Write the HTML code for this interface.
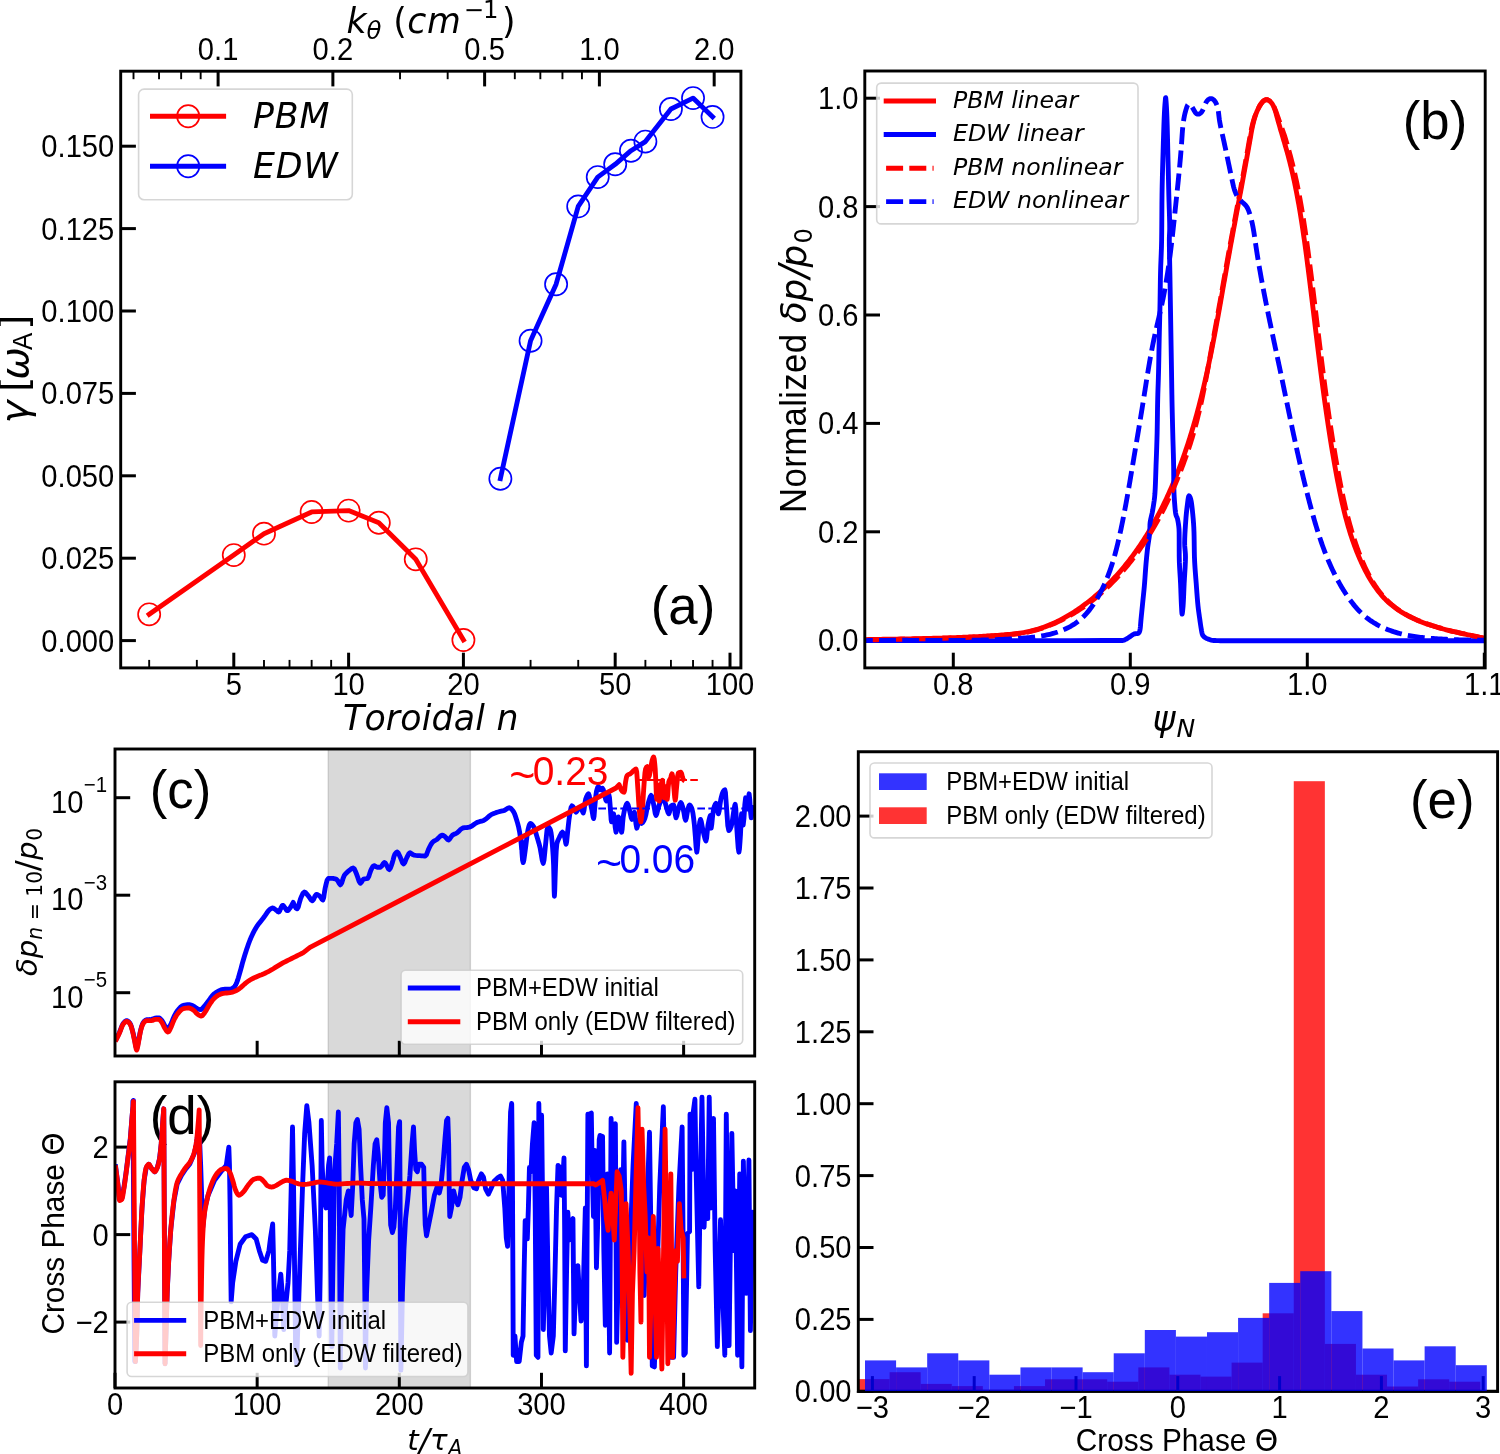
<!DOCTYPE html>
<html lang="en"><head><meta charset="utf-8"><title>Figure</title>
<style>
html,body{margin:0;padding:0;background:#fff;}
body{width:1500px;height:1454px;overflow:hidden;}
svg{display:block;}
text{white-space:pre;font-kerning:none;}
</style></head>
<body>
<svg width="1500" height="1454" viewBox="0 0 1500 1454">
<rect x="0" y="0" width="1500" height="1454" fill="#fff"/>
<g id="panel-a">
<line x1="233.79" y1="667.9" x2="233.79" y2="652.7" stroke="#000" stroke-width="3"/>
<g fill="#000"><text transform="translate(225.68 694.8) scale(1 1.06)" font-family='"Liberation Sans", sans-serif' font-size="29.17">5</text></g>
<line x1="348.6" y1="667.9" x2="348.6" y2="652.7" stroke="#000" stroke-width="3"/>
<g fill="#000"><text transform="translate(332.38 694.8) scale(1 1.06)" font-family='"Liberation Sans", sans-serif' font-size="29.17">10</text></g>
<line x1="463.41" y1="667.9" x2="463.41" y2="652.7" stroke="#000" stroke-width="3"/>
<g fill="#000"><text transform="translate(447.19 694.8) scale(1 1.06)" font-family='"Liberation Sans", sans-serif' font-size="29.17">20</text></g>
<line x1="615.19" y1="667.9" x2="615.19" y2="652.7" stroke="#000" stroke-width="3"/>
<g fill="#000"><text transform="translate(598.97 694.8) scale(1 1.06)" font-family='"Liberation Sans", sans-serif' font-size="29.17">50</text></g>
<line x1="730" y1="667.9" x2="730" y2="652.7" stroke="#000" stroke-width="3"/>
<g fill="#000"><text transform="translate(705.67 694.8) scale(1 1.06)" font-family='"Liberation Sans", sans-serif' font-size="29.17">100</text></g>
<line x1="149.17" y1="667.9" x2="149.17" y2="659.9" stroke="#000" stroke-width="1.9"/>
<line x1="196.83" y1="667.9" x2="196.83" y2="659.9" stroke="#000" stroke-width="1.9"/>
<line x1="263.99" y1="667.9" x2="263.99" y2="659.9" stroke="#000" stroke-width="1.9"/>
<line x1="289.52" y1="667.9" x2="289.52" y2="659.9" stroke="#000" stroke-width="1.9"/>
<line x1="311.64" y1="667.9" x2="311.64" y2="659.9" stroke="#000" stroke-width="1.9"/>
<line x1="331.15" y1="667.9" x2="331.15" y2="659.9" stroke="#000" stroke-width="1.9"/>
<line x1="530.57" y1="667.9" x2="530.57" y2="659.9" stroke="#000" stroke-width="1.9"/>
<line x1="578.23" y1="667.9" x2="578.23" y2="659.9" stroke="#000" stroke-width="1.9"/>
<line x1="645.39" y1="667.9" x2="645.39" y2="659.9" stroke="#000" stroke-width="1.9"/>
<line x1="670.92" y1="667.9" x2="670.92" y2="659.9" stroke="#000" stroke-width="1.9"/>
<line x1="693.04" y1="667.9" x2="693.04" y2="659.9" stroke="#000" stroke-width="1.9"/>
<line x1="712.55" y1="667.9" x2="712.55" y2="659.9" stroke="#000" stroke-width="1.9"/>
<line x1="218.1" y1="71.2" x2="218.1" y2="86.4" stroke="#000" stroke-width="3"/>
<g fill="#000"><text transform="translate(197.83 60.3) scale(1 1.06)" font-family='"Liberation Sans", sans-serif' font-size="29.17">0.1</text></g>
<line x1="332.88" y1="71.2" x2="332.88" y2="86.4" stroke="#000" stroke-width="3"/>
<g fill="#000"><text transform="translate(312.61 60.3) scale(1 1.06)" font-family='"Liberation Sans", sans-serif' font-size="29.17">0.2</text></g>
<line x1="484.62" y1="71.2" x2="484.62" y2="86.4" stroke="#000" stroke-width="3"/>
<g fill="#000"><text transform="translate(464.34 60.3) scale(1 1.06)" font-family='"Liberation Sans", sans-serif' font-size="29.17">0.5</text></g>
<line x1="599.4" y1="71.2" x2="599.4" y2="86.4" stroke="#000" stroke-width="3"/>
<g fill="#000"><text transform="translate(579.13 60.3) scale(1 1.06)" font-family='"Liberation Sans", sans-serif' font-size="29.17">1.0</text></g>
<line x1="714.18" y1="71.2" x2="714.18" y2="86.4" stroke="#000" stroke-width="3"/>
<g fill="#000"><text transform="translate(693.91 60.3) scale(1 1.06)" font-family='"Liberation Sans", sans-serif' font-size="29.17">2.0</text></g>
<line x1="133.51" y1="71.2" x2="133.51" y2="79.2" stroke="#000" stroke-width="1.9"/>
<line x1="159.04" y1="71.2" x2="159.04" y2="79.2" stroke="#000" stroke-width="1.9"/>
<line x1="181.15" y1="71.2" x2="181.15" y2="79.2" stroke="#000" stroke-width="1.9"/>
<line x1="200.65" y1="71.2" x2="200.65" y2="79.2" stroke="#000" stroke-width="1.9"/>
<line x1="400.03" y1="71.2" x2="400.03" y2="79.2" stroke="#000" stroke-width="1.9"/>
<line x1="447.67" y1="71.2" x2="447.67" y2="79.2" stroke="#000" stroke-width="1.9"/>
<line x1="514.81" y1="71.2" x2="514.81" y2="79.2" stroke="#000" stroke-width="1.9"/>
<line x1="540.34" y1="71.2" x2="540.34" y2="79.2" stroke="#000" stroke-width="1.9"/>
<line x1="562.45" y1="71.2" x2="562.45" y2="79.2" stroke="#000" stroke-width="1.9"/>
<line x1="581.95" y1="71.2" x2="581.95" y2="79.2" stroke="#000" stroke-width="1.9"/>
<line x1="120.7" y1="640.6" x2="135.9" y2="640.6" stroke="#000" stroke-width="3"/>
<g fill="#000"><text transform="translate(41.31 651.5) scale(1 1.06)" font-family='"Liberation Sans", sans-serif' font-size="29.17">0.000</text></g>
<line x1="120.7" y1="558.2" x2="135.9" y2="558.2" stroke="#000" stroke-width="3"/>
<g fill="#000"><text transform="translate(41.31 569.1) scale(1 1.06)" font-family='"Liberation Sans", sans-serif' font-size="29.17">0.025</text></g>
<line x1="120.7" y1="475.8" x2="135.9" y2="475.8" stroke="#000" stroke-width="3"/>
<g fill="#000"><text transform="translate(41.31 486.7) scale(1 1.06)" font-family='"Liberation Sans", sans-serif' font-size="29.17">0.050</text></g>
<line x1="120.7" y1="393.4" x2="135.9" y2="393.4" stroke="#000" stroke-width="3"/>
<g fill="#000"><text transform="translate(41.31 404.3) scale(1 1.06)" font-family='"Liberation Sans", sans-serif' font-size="29.17">0.075</text></g>
<line x1="120.7" y1="311" x2="135.9" y2="311" stroke="#000" stroke-width="3"/>
<g fill="#000"><text transform="translate(41.31 321.9) scale(1 1.06)" font-family='"Liberation Sans", sans-serif' font-size="29.17">0.100</text></g>
<line x1="120.7" y1="228.6" x2="135.9" y2="228.6" stroke="#000" stroke-width="3"/>
<g fill="#000"><text transform="translate(41.31 239.5) scale(1 1.06)" font-family='"Liberation Sans", sans-serif' font-size="29.17">0.125</text></g>
<line x1="120.7" y1="146.2" x2="135.9" y2="146.2" stroke="#000" stroke-width="3"/>
<g fill="#000"><text transform="translate(41.31 157.1) scale(1 1.06)" font-family='"Liberation Sans", sans-serif' font-size="29.17">0.150</text></g>
<path d="M149.17 614.32 L233.79 555.07 L263.99 533.67 L311.64 511.94 L348.6 510.62 L378.8 522.8 L415.76 559.35 L463.41 640" fill="none" stroke="#f00" stroke-width="4.86" stroke-linejoin="round" stroke-linecap="square" />
<circle cx="149.17" cy="614.32" r="11.1" fill="none" stroke="#f00" stroke-width="1.67"/>
<circle cx="233.79" cy="555.07" r="11.1" fill="none" stroke="#f00" stroke-width="1.67"/>
<circle cx="263.99" cy="533.67" r="11.1" fill="none" stroke="#f00" stroke-width="1.67"/>
<circle cx="311.64" cy="511.94" r="11.1" fill="none" stroke="#f00" stroke-width="1.67"/>
<circle cx="348.6" cy="510.62" r="11.1" fill="none" stroke="#f00" stroke-width="1.67"/>
<circle cx="378.8" cy="522.8" r="11.1" fill="none" stroke="#f00" stroke-width="1.67"/>
<circle cx="415.76" cy="559.35" r="11.1" fill="none" stroke="#f00" stroke-width="1.67"/>
<circle cx="463.41" cy="640" r="11.1" fill="none" stroke="#f00" stroke-width="1.67"/>
<path d="M500.37 478.7 L530.57 340.7 L556.11 284.2 L578.23 206.4 L597.74 177.1 L615.19 164.3 L630.97 150.7 L645.39 141.6 L670.92 109 L693.04 98.1 L712.55 116.9" fill="none" stroke="#00f" stroke-width="4.86" stroke-linejoin="round" stroke-linecap="square" />
<circle cx="500.37" cy="478.7" r="11.1" fill="none" stroke="#00f" stroke-width="1.67"/>
<circle cx="530.57" cy="340.7" r="11.1" fill="none" stroke="#00f" stroke-width="1.67"/>
<circle cx="556.11" cy="284.2" r="11.1" fill="none" stroke="#00f" stroke-width="1.67"/>
<circle cx="578.23" cy="206.4" r="11.1" fill="none" stroke="#00f" stroke-width="1.67"/>
<circle cx="597.74" cy="177.1" r="11.1" fill="none" stroke="#00f" stroke-width="1.67"/>
<circle cx="615.19" cy="164.3" r="11.1" fill="none" stroke="#00f" stroke-width="1.67"/>
<circle cx="630.97" cy="150.7" r="11.1" fill="none" stroke="#00f" stroke-width="1.67"/>
<circle cx="645.39" cy="141.6" r="11.1" fill="none" stroke="#00f" stroke-width="1.67"/>
<circle cx="670.92" cy="109" r="11.1" fill="none" stroke="#00f" stroke-width="1.67"/>
<circle cx="693.04" cy="98.1" r="11.1" fill="none" stroke="#00f" stroke-width="1.67"/>
<circle cx="712.55" cy="116.9" r="11.1" fill="none" stroke="#00f" stroke-width="1.67"/>
<rect x="120.7" y="71.2" width="620.2" height="596.7" fill="none" stroke="#000" stroke-width="2.92"/>
<rect x="138.6" y="89.1" width="213.7" height="110.6" rx="5.5" ry="5.5" fill="#fff" fill-opacity="0.8" stroke="#ccc" stroke-opacity="0.8" stroke-width="1.6"/>
<path d="M150 116.2 L226.1 116.2" fill="none" stroke="#f00" stroke-width="4.86" stroke-linejoin="round" stroke-linecap="butt" />
<circle cx="188.2" cy="116.2" r="11.1" fill="none" stroke="#f00" stroke-width="1.67"/>
<g fill="#000"><text x="253" y="127.9" font-family='"DejaVu Sans", "Liberation Sans", sans-serif' font-size="34.72" font-style="italic" letter-spacing="0.9">PBM</text></g>
<path d="M150 166.3 L226.1 166.3" fill="none" stroke="#00f" stroke-width="4.86" stroke-linejoin="round" stroke-linecap="butt" />
<circle cx="188.2" cy="166.3" r="11.1" fill="none" stroke="#00f" stroke-width="1.67"/>
<g fill="#000"><text x="253" y="177.8" font-family='"DejaVu Sans", "Liberation Sans", sans-serif' font-size="34.72" font-style="italic" letter-spacing="0.9">EDW</text></g>
<g fill="#000"><text x="650.8" y="623.8" font-family='"Liberation Sans", sans-serif' font-size="52.78">(a)</text></g>
<g fill="#000"><text x="343" y="730.3" font-family='"DejaVu Sans", "Liberation Sans", sans-serif' font-size="34.72" font-style="italic" letter-spacing="0.2">Toroidal n</text></g>
<g fill="#000"><text x="346.5" y="32.9" font-family='"DejaVu Sans", "Liberation Sans", sans-serif' font-size="34.72" font-style="italic">k</text><text x="366.61" y="38.7" font-family='"DejaVu Sans", "Liberation Sans", sans-serif' font-size="24.31" font-style="italic">θ</text><text x="382.28" y="32.9" font-family='"DejaVu Sans", "Liberation Sans", sans-serif' font-size="34.72"> (</text><text x="407.36" y="32.9" font-family='"DejaVu Sans", "Liberation Sans", sans-serif' font-size="34.72" font-style="italic" letter-spacing="0.6">cm</text><text x="463.68" y="17.7" font-family='"DejaVu Sans", "Liberation Sans", sans-serif' font-size="24.31" letter-spacing="-1">−1</text><text x="502.01" y="32.9" font-family='"DejaVu Sans", "Liberation Sans", sans-serif' font-size="34.72">)</text></g>
<g transform="translate(27.6 423.5) rotate(-90)" fill="#000"><text x="0" y="0" font-family='"DejaVu Sans", "Liberation Sans", sans-serif' font-size="38.89" font-style="italic">γ</text><text x="19.51" y="0" font-family='"DejaVu Sans", "Liberation Sans", sans-serif' font-size="38.89"> [</text><text x="43.65" y="0" font-family='"DejaVu Sans", "Liberation Sans", sans-serif' font-size="38.89" font-style="italic">ω</text><text transform="translate(73.41 4.6) scale(1 1.06)" font-family='"Liberation Sans", sans-serif' font-size="26">A</text><text x="93.76" y="0" font-family='"DejaVu Sans", "Liberation Sans", sans-serif' font-size="38.89">]</text></g>
</g>
<g id="panel-b">
<clipPath id="clipb"><rect x="864.8" y="71" width="620.4" height="596.9"/></clipPath>
<line x1="953.3" y1="667.9" x2="953.3" y2="652.7" stroke="#000" stroke-width="3"/>
<g fill="#000"><text transform="translate(933.03 694.8) scale(1 1.06)" font-family='"Liberation Sans", sans-serif' font-size="29.17">0.8</text></g>
<line x1="1130.3" y1="667.9" x2="1130.3" y2="652.7" stroke="#000" stroke-width="3"/>
<g fill="#000"><text transform="translate(1110.03 694.8) scale(1 1.06)" font-family='"Liberation Sans", sans-serif' font-size="29.17">0.9</text></g>
<line x1="1307.3" y1="667.9" x2="1307.3" y2="652.7" stroke="#000" stroke-width="3"/>
<g fill="#000"><text transform="translate(1287.03 694.8) scale(1 1.06)" font-family='"Liberation Sans", sans-serif' font-size="29.17">1.0</text></g>
<line x1="1484.3" y1="667.9" x2="1484.3" y2="652.7" stroke="#000" stroke-width="3"/>
<g fill="#000"><text transform="translate(1464.03 694.8) scale(1 1.06)" font-family='"Liberation Sans", sans-serif' font-size="29.17">1.1</text></g>
<line x1="864.8" y1="640.2" x2="880" y2="640.2" stroke="#000" stroke-width="3"/>
<g fill="#000"><text transform="translate(818.05 651.1) scale(1 1.06)" font-family='"Liberation Sans", sans-serif' font-size="29.17">0.0</text></g>
<line x1="864.8" y1="531.8" x2="880" y2="531.8" stroke="#000" stroke-width="3"/>
<g fill="#000"><text transform="translate(818.05 542.7) scale(1 1.06)" font-family='"Liberation Sans", sans-serif' font-size="29.17">0.2</text></g>
<line x1="864.8" y1="423.4" x2="880" y2="423.4" stroke="#000" stroke-width="3"/>
<g fill="#000"><text transform="translate(818.05 434.3) scale(1 1.06)" font-family='"Liberation Sans", sans-serif' font-size="29.17">0.4</text></g>
<line x1="864.8" y1="315" x2="880" y2="315" stroke="#000" stroke-width="3"/>
<g fill="#000"><text transform="translate(818.05 325.9) scale(1 1.06)" font-family='"Liberation Sans", sans-serif' font-size="29.17">0.6</text></g>
<line x1="864.8" y1="206.6" x2="880" y2="206.6" stroke="#000" stroke-width="3"/>
<g fill="#000"><text transform="translate(818.05 217.5) scale(1 1.06)" font-family='"Liberation Sans", sans-serif' font-size="29.17">0.8</text></g>
<line x1="864.8" y1="98.2" x2="880" y2="98.2" stroke="#000" stroke-width="3"/>
<g fill="#000"><text transform="translate(818.05 109.1) scale(1 1.06)" font-family='"Liberation Sans", sans-serif' font-size="29.17">1.0</text></g>
<g clip-path="url(#clipb)">
<path d="M864.81 639.6 L866.82 639.56 L868.83 639.53 L870.84 639.49 L872.85 639.46 L874.86 639.43 L876.87 639.4 L878.88 639.36 L880.89 639.33 L882.91 639.3 L884.92 639.27 L886.93 639.23 L888.94 639.2 L890.96 639.17 L892.97 639.13 L894.98 639.1 L897 639.07 L899.01 639.03 L901.02 638.99 L903.04 638.96 L905.05 638.92 L907.07 638.88 L909.08 638.85 L911.1 638.81 L913.11 638.77 L915.13 638.72 L917.14 638.68 L919.16 638.64 L921.17 638.59 L923.19 638.55 L925.2 638.5 L927.22 638.45 L929.23 638.4 L931.25 638.35 L933.26 638.29 L935.28 638.24 L937.29 638.18 L939.31 638.12 L941.32 638.06 L943.34 637.99 L945.35 637.93 L947.37 637.86 L949.38 637.79 L951.4 637.72 L953.41 637.65 L955.42 637.57 L957.44 637.49 L959.45 637.41 L961.47 637.33 L963.48 637.24 L965.49 637.15 L967.51 637.06 L969.52 636.96 L971.53 636.87 L973.55 636.77 L975.56 636.66 L977.57 636.56 L979.58 636.45 L981.6 636.33 L983.61 636.22 L985.62 636.1 L987.63 635.97 L989.64 635.85 L991.65 635.72 L993.66 635.58 L995.67 635.44 L997.68 635.3 L999.69 635.16 L1001.7 635.01 L1003.71 634.85 L1005.71 634.69 L1007.72 634.52 L1009.72 634.34 L1011.72 634.14 L1013.72 633.93 L1015.71 633.69 L1017.7 633.44 L1019.69 633.17 L1021.66 632.87 L1023.64 632.55 L1025.61 632.19 L1027.57 631.81 L1029.52 631.4 L1031.47 630.95 L1033.41 630.46 L1035.34 629.94 L1037.26 629.39 L1039.18 628.8 L1041.09 628.18 L1042.98 627.52 L1044.87 626.84 L1046.75 626.12 L1048.62 625.38 L1050.48 624.6 L1052.33 623.8 L1054.17 622.97 L1056 622.11 L1057.82 621.22 L1059.63 620.31 L1061.43 619.38 L1063.22 618.42 L1065 617.43 L1066.76 616.43 L1068.52 615.4 L1070.26 614.34 L1071.99 613.27 L1073.71 612.18 L1075.41 611.07 L1077.1 609.94 L1078.79 608.79 L1080.45 607.63 L1082.11 606.45 L1083.75 605.25 L1085.38 604.04 L1086.99 602.81 L1088.59 601.57 L1090.18 600.31 L1091.75 599.05 L1093.31 597.76 L1094.86 596.47 L1096.39 595.16 L1097.91 593.84 L1099.42 592.5 L1100.91 591.16 L1102.39 589.8 L1103.86 588.43 L1105.31 587.04 L1106.76 585.64 L1108.18 584.24 L1109.6 582.82 L1111 581.38 L1112.39 579.94 L1113.77 578.48 L1115.14 577.02 L1116.49 575.54 L1117.83 574.05 L1119.16 572.55 L1120.48 571.04 L1121.78 569.52 L1123.07 567.99 L1124.36 566.45 L1125.62 564.9 L1126.88 563.34 L1128.13 561.77 L1129.36 560.19 L1130.58 558.6 L1131.79 557 L1132.99 555.39 L1134.18 553.77 L1135.35 552.15 L1136.52 550.51 L1137.67 548.87 L1138.81 547.22 L1139.95 545.56 L1141.07 543.89 L1142.18 542.22 L1143.27 540.53 L1144.36 538.84 L1145.44 537.14 L1146.51 535.44 L1147.56 533.73 L1148.61 532.01 L1149.64 530.28 L1150.67 528.55 L1151.68 526.81 L1152.69 525.06 L1153.68 523.31 L1154.67 521.55 L1155.64 519.78 L1156.6 518.01 L1157.56 516.24 L1158.5 514.45 L1159.44 512.67 L1160.36 510.87 L1161.28 509.08 L1162.19 507.28 L1163.08 505.47 L1163.97 503.66 L1164.85 501.84 L1165.72 500.02 L1166.58 498.2 L1167.43 496.37 L1168.27 494.54 L1169.1 492.7 L1169.92 490.86 L1170.74 489.02 L1171.55 487.17 L1172.34 485.32 L1173.13 483.47 L1173.91 481.62 L1174.69 479.76 L1175.45 477.9 L1176.2 476.03 L1176.95 474.16 L1177.69 472.29 L1178.42 470.42 L1179.15 468.55 L1179.86 466.67 L1180.57 464.79 L1181.27 462.9 L1181.96 461.02 L1182.65 459.13 L1183.32 457.23 L1184 455.34 L1184.66 453.44 L1185.31 451.54 L1185.96 449.64 L1186.6 447.74 L1187.24 445.83 L1187.87 443.92 L1188.49 442.01 L1189.1 440.1 L1189.71 438.18 L1190.31 436.26 L1190.91 434.34 L1191.5 432.42 L1192.08 430.5 L1192.66 428.57 L1193.23 426.64 L1193.79 424.71 L1194.35 422.78 L1194.9 420.84 L1195.45 418.91 L1195.99 416.97 L1196.52 415.03 L1197.05 413.09 L1197.58 411.14 L1198.1 409.2 L1198.61 407.25 L1199.12 405.3 L1199.62 403.35 L1200.12 401.4 L1200.62 399.45 L1201.11 397.49 L1201.59 395.53 L1202.07 393.58 L1202.54 391.62 L1203.01 389.66 L1203.48 387.69 L1203.94 385.73 L1204.4 383.77 L1204.85 381.8 L1205.3 379.83 L1205.74 377.86 L1206.19 375.89 L1206.62 373.92 L1207.06 371.95 L1207.48 369.98 L1207.91 368.01 L1208.33 366.03 L1208.75 364.06 L1209.17 362.08 L1209.58 360.1 L1209.99 358.12 L1210.4 356.14 L1210.8 354.17 L1211.2 352.18 L1211.6 350.2 L1211.99 348.22 L1212.38 346.24 L1212.77 344.26 L1213.16 342.27 L1213.54 340.29 L1213.92 338.31 L1214.3 336.32 L1214.68 334.34 L1215.05 332.35 L1215.43 330.36 L1215.8 328.38 L1216.17 326.39 L1216.53 324.4 L1216.9 322.42 L1217.26 320.43 L1217.63 318.44 L1217.99 316.46 L1218.35 314.47 L1218.7 312.48 L1219.06 310.49 L1219.42 308.51 L1219.77 306.52 L1220.13 304.53 L1220.48 302.55 L1220.83 300.56 L1221.18 298.57 L1221.53 296.59 L1221.88 294.6 L1222.23 292.61 L1222.58 290.63 L1222.93 288.64 L1223.28 286.66 L1223.63 284.68 L1223.98 282.69 L1224.33 280.71 L1224.68 278.73 L1225.03 276.75 L1225.38 274.76 L1225.73 272.78 L1226.08 270.8 L1226.43 268.83 L1226.78 266.85 L1227.13 264.87 L1227.48 262.89 L1227.84 260.92 L1228.19 258.94 L1228.55 256.97 L1228.9 255 L1229.26 253.02 L1229.62 251.05 L1229.98 249.08 L1230.33 247.11 L1230.69 245.14 L1231.05 243.17 L1231.42 241.2 L1231.78 239.23 L1232.14 237.26 L1232.5 235.3 L1232.87 233.33 L1233.23 231.36 L1233.59 229.39 L1233.96 227.42 L1234.32 225.46 L1234.69 223.49 L1235.05 221.52 L1235.42 219.55 L1235.79 217.58 L1236.15 215.61 L1236.52 213.64 L1236.89 211.67 L1237.25 209.7 L1237.62 207.73 L1237.99 205.76 L1238.36 203.79 L1238.72 201.82 L1239.09 199.84 L1239.46 197.87 L1239.83 195.89 L1240.19 193.92 L1240.56 191.94 L1240.93 189.96 L1241.3 187.98 L1241.66 186 L1242.03 184.02 L1242.4 182.04 L1242.76 180.05 L1243.13 178.07 L1243.49 176.08 L1243.86 174.09 L1244.22 172.1 L1244.59 170.11 L1244.95 168.12 L1245.31 166.12 L1245.68 164.13 L1246.04 162.13 L1246.4 160.13 L1246.76 158.12 L1247.12 156.12 L1247.48 154.11 L1247.84 152.11 L1248.2 150.1 L1248.56 148.08 L1248.91 146.07 L1249.27 144.05 L1249.63 142.03 L1249.98 140.01 L1250.33 137.99 L1250.69 135.96 L1251.04 133.93 L1251.41 131.91 L1251.78 129.89 L1252.18 127.87 L1252.6 125.87 L1253.05 123.87 L1253.53 121.89 L1254.05 119.92 L1254.61 117.98 L1255.22 116.05 L1255.89 114.15 L1256.61 112.27 L1257.4 110.42 L1258.26 108.6 L1259.19 106.81 L1260.2 105.07 L1261.29 103.44 L1262.43 102 L1263.63 100.84 L1264.88 100.03 L1266.16 99.66 L1267.48 99.79 L1268.78 100.36 L1270.06 101.32 L1271.27 102.61 L1272.38 104.16 L1273.36 105.91 L1274.21 107.82 L1274.96 109.84 L1275.62 111.95 L1276.23 114.1 L1276.82 116.26 L1277.4 118.4 L1277.98 120.51 L1278.56 122.6 L1279.15 124.66 L1279.73 126.69 L1280.32 128.71 L1280.9 130.71 L1281.48 132.69 L1282.06 134.65 L1282.64 136.6 L1283.21 138.54 L1283.78 140.47 L1284.35 142.39 L1284.91 144.3 L1285.46 146.21 L1286.01 148.12 L1286.55 150.02 L1287.09 151.93 L1287.62 153.83 L1288.13 155.74 L1288.64 157.66 L1289.15 159.57 L1289.64 161.49 L1290.13 163.41 L1290.61 165.34 L1291.08 167.27 L1291.54 169.2 L1292 171.14 L1292.44 173.08 L1292.89 175.02 L1293.32 176.96 L1293.75 178.91 L1294.17 180.86 L1294.59 182.81 L1294.99 184.77 L1295.4 186.72 L1295.79 188.68 L1296.18 190.65 L1296.57 192.61 L1296.95 194.58 L1297.32 196.55 L1297.69 198.52 L1298.05 200.49 L1298.4 202.46 L1298.76 204.44 L1299.1 206.42 L1299.44 208.4 L1299.78 210.38 L1300.11 212.37 L1300.44 214.35 L1300.76 216.34 L1301.08 218.33 L1301.4 220.32 L1301.71 222.31 L1302.02 224.3 L1302.32 226.29 L1302.62 228.29 L1302.92 230.29 L1303.21 232.28 L1303.5 234.28 L1303.79 236.28 L1304.08 238.28 L1304.36 240.28 L1304.64 242.28 L1304.91 244.28 L1305.19 246.28 L1305.46 248.29 L1305.73 250.29 L1306 252.29 L1306.26 254.29 L1306.53 256.3 L1306.79 258.3 L1307.05 260.31 L1307.31 262.31 L1307.57 264.32 L1307.83 266.32 L1308.08 268.32 L1308.34 270.33 L1308.59 272.33 L1308.85 274.34 L1309.1 276.34 L1309.35 278.34 L1309.6 280.35 L1309.85 282.35 L1310.1 284.35 L1310.35 286.36 L1310.59 288.36 L1310.84 290.36 L1311.09 292.37 L1311.33 294.37 L1311.58 296.37 L1311.82 298.38 L1312.06 300.38 L1312.31 302.38 L1312.55 304.39 L1312.79 306.39 L1313.04 308.39 L1313.28 310.39 L1313.52 312.4 L1313.76 314.4 L1314 316.4 L1314.24 318.4 L1314.49 320.4 L1314.73 322.41 L1314.97 324.41 L1315.21 326.41 L1315.45 328.41 L1315.69 330.41 L1315.94 332.41 L1316.18 334.41 L1316.42 336.41 L1316.67 338.41 L1316.91 340.41 L1317.15 342.41 L1317.4 344.41 L1317.64 346.41 L1317.89 348.41 L1318.13 350.41 L1318.38 352.41 L1318.63 354.41 L1318.87 356.41 L1319.12 358.4 L1319.37 360.4 L1319.62 362.4 L1319.87 364.4 L1320.13 366.39 L1320.38 368.39 L1320.63 370.39 L1320.89 372.39 L1321.15 374.38 L1321.4 376.38 L1321.66 378.37 L1321.92 380.37 L1322.18 382.36 L1322.45 384.36 L1322.71 386.35 L1322.97 388.35 L1323.24 390.34 L1323.51 392.34 L1323.78 394.33 L1324.05 396.32 L1324.32 398.32 L1324.6 400.31 L1324.87 402.3 L1325.15 404.29 L1325.43 406.28 L1325.71 408.28 L1326 410.27 L1326.28 412.26 L1326.57 414.25 L1326.86 416.24 L1327.15 418.23 L1327.44 420.22 L1327.74 422.2 L1328.03 424.19 L1328.33 426.18 L1328.64 428.17 L1328.94 430.16 L1329.25 432.14 L1329.56 434.13 L1329.87 436.12 L1330.18 438.1 L1330.5 440.09 L1330.82 442.07 L1331.14 444.06 L1331.46 446.04 L1331.79 448.02 L1332.12 450.01 L1332.45 451.99 L1332.78 453.97 L1333.12 455.96 L1333.46 457.94 L1333.8 459.92 L1334.15 461.9 L1334.5 463.88 L1334.85 465.86 L1335.21 467.84 L1335.57 469.82 L1335.93 471.8 L1336.29 473.77 L1336.66 475.75 L1337.03 477.73 L1337.41 479.71 L1337.79 481.68 L1338.17 483.66 L1338.56 485.63 L1338.95 487.61 L1339.34 489.58 L1339.74 491.55 L1340.15 493.52 L1340.57 495.49 L1340.99 497.46 L1341.41 499.42 L1341.85 501.39 L1342.29 503.35 L1342.74 505.31 L1343.19 507.27 L1343.66 509.22 L1344.13 511.18 L1344.62 513.13 L1345.11 515.08 L1345.61 517.03 L1346.12 518.97 L1346.65 520.91 L1347.18 522.85 L1347.73 524.79 L1348.28 526.72 L1348.85 528.65 L1349.43 530.58 L1350.03 532.5 L1350.63 534.42 L1351.25 536.34 L1351.89 538.25 L1352.53 540.16 L1353.2 542.06 L1353.87 543.96 L1354.56 545.86 L1355.27 547.75 L1355.99 549.64 L1356.73 551.52 L1357.49 553.4 L1358.26 555.28 L1359.04 557.15 L1359.85 559.01 L1360.67 560.87 L1361.51 562.73 L1362.37 564.58 L1363.25 566.42 L1364.15 568.25 L1365.07 570.07 L1366.01 571.88 L1366.97 573.68 L1367.95 575.47 L1368.96 577.24 L1369.99 578.99 L1371.04 580.73 L1372.12 582.44 L1373.22 584.14 L1374.34 585.81 L1375.49 587.46 L1376.67 589.09 L1377.88 590.69 L1379.11 592.26 L1380.37 593.8 L1381.66 595.32 L1382.98 596.8 L1384.32 598.25 L1385.7 599.67 L1387.11 601.05 L1388.55 602.4 L1390.02 603.71 L1391.53 604.98 L1393.06 606.21 L1394.62 607.41 L1396.21 608.58 L1397.83 609.71 L1399.47 610.81 L1401.14 611.88 L1402.83 612.91 L1404.55 613.91 L1406.28 614.89 L1408.04 615.83 L1409.82 616.75 L1411.62 617.64 L1413.44 618.5 L1415.28 619.34 L1417.13 620.15 L1419 620.93 L1420.88 621.69 L1422.78 622.43 L1424.69 623.15 L1426.61 623.84 L1428.55 624.52 L1430.49 625.17 L1432.44 625.81 L1434.4 626.42 L1436.37 627.02 L1438.34 627.6 L1440.32 628.17 L1442.31 628.72 L1444.29 629.26 L1446.28 629.78 L1448.27 630.29 L1450.27 630.78 L1452.26 631.27 L1454.25 631.74 L1456.24 632.21 L1458.22 632.66 L1460.2 633.11 L1462.18 633.55 L1464.15 633.98 L1466.11 634.4 L1468.06 634.83 L1470.01 635.24 L1471.95 635.65 L1473.87 636.06 L1475.79 636.47 L1477.69 636.87 L1479.57 637.28 L1481.45 637.68 L1483.3 638.09 L1485.14 638.5" fill="none" stroke="#f00" stroke-width="4.86" stroke-linejoin="round" stroke-linecap="butt" />
<path d="M864.8 640.6 L949.47 640.6 L1018.05 640.59 L1070.03 640.57 L1104.96 640.54 L1122.34 640.5 L1123.2 640.42 L1123.88 640.24 L1124.45 639.99 L1125.01 639.7 L1125.64 639.39 L1126.49 638.97 L1127.37 638.43 L1128.26 637.84 L1129.15 637.22 L1130.04 636.64 L1130.92 636.04 L1131.8 635.38 L1132.68 634.74 L1133.56 634.22 L1134.44 633.89 L1135.26 633.75 L1136.12 633.66 L1136.97 633.59 L1137.72 633.49 L1138.29 633.34 L1138.73 633.02 L1139.11 632.45 L1139.45 631.72 L1139.72 630.9 L1139.94 630.04 L1140.23 628.35 L1140.45 626.27 L1140.64 623.95 L1140.83 621.49 L1141.05 619.04 L1141.35 615.96 L1141.68 612.68 L1142.02 609.3 L1142.36 605.89 L1142.7 602.53 L1143.03 599.27 L1143.37 596.04 L1143.7 592.79 L1144.03 589.47 L1144.35 586.02 L1144.69 581.78 L1145.01 577.3 L1145.33 572.74 L1145.66 568.26 L1146 564.02 L1146.31 560.57 L1146.62 557.24 L1146.94 554 L1147.28 550.77 L1147.65 547.51 L1148.11 544.08 L1148.66 540.54 L1149.21 537.05 L1149.64 533.81 L1149.85 531 L1149.88 529.54 L1149.9 528.26 L1149.92 527.04 L1149.94 525.78 L1149.97 524.35 L1150.22 521.86 L1150.76 519.08 L1151.45 516.11 L1152.15 513.06 L1152.72 510.04 L1153.24 506.89 L1153.74 503.73 L1154.21 500.49 L1154.62 497.12 L1154.92 493.54 L1155.21 488.54 L1155.44 483.18 L1155.64 477.56 L1155.83 471.8 L1156.02 466.02 L1156.26 459.62 L1156.51 453.04 L1156.74 446.36 L1156.95 439.66 L1157.13 433.01 L1157.25 426.37 L1157.36 419.67 L1157.45 413 L1157.55 406.42 L1157.68 400 L1157.82 394.3 L1158 388.76 L1158.2 383.28 L1158.38 377.75 L1158.54 372.05 L1158.69 365.63 L1158.82 359.05 L1158.94 352.38 L1159.07 345.68 L1159.2 339.04 L1159.35 332.43 L1159.51 325.83 L1159.68 319.23 L1159.83 312.63 L1159.97 306.02 L1160.09 299.42 L1160.19 292.82 L1160.29 286.22 L1160.39 279.61 L1160.52 273.01 L1160.71 266.49 L1160.97 260.04 L1161.23 253.56 L1161.47 246.92 L1161.62 240 L1161.72 231.46 L1161.79 222.5 L1161.85 213.33 L1161.91 204.12 L1162.01 195.04 L1162.16 186.16 L1162.36 177.26 L1162.6 168.39 L1162.85 159.63 L1163.11 151.02 L1163.35 142.76 L1163.61 134.24 L1163.88 125.99 L1164.15 118.57 L1164.43 112.51 L1164.58 109.84 L1164.73 107.4 L1164.89 105.19 L1165.05 103.23 L1165.2 101.51 L1165.29 100.5 L1165.38 99.47 L1165.46 98.56 L1165.55 97.9 L1165.64 97.65 L1165.73 97.9 L1165.82 98.53 L1165.9 99.43 L1165.99 100.47 L1166.08 101.51 L1166.26 103.9 L1166.44 106.87 L1166.63 110.3 L1166.8 114.05 L1166.96 118.01 L1167.2 125.48 L1167.43 134.31 L1167.65 143.81 L1167.86 153.28 L1168.06 162.03 L1168.22 168.93 L1168.38 175.57 L1168.52 182.06 L1168.67 188.51 L1168.83 195.04 L1169.03 201.92 L1169.26 209.08 L1169.48 216.1 L1169.65 222.57 L1169.71 228.05 L1169.67 230.7 L1169.58 232.96 L1169.46 235.09 L1169.37 237.35 L1169.33 240 L1169.37 245.49 L1169.47 251.95 L1169.6 258.97 L1169.75 266.13 L1169.88 273.01 L1169.99 279.61 L1170.1 286.22 L1170.21 292.82 L1170.32 299.42 L1170.43 306.02 L1170.54 312.63 L1170.65 319.23 L1170.76 325.83 L1170.87 332.43 L1170.98 339.04 L1171.09 345.68 L1171.2 352.38 L1171.31 359.04 L1171.42 365.63 L1171.53 372.05 L1171.62 377.75 L1171.7 383.28 L1171.79 388.76 L1171.88 394.3 L1171.98 400 L1172.11 406.42 L1172.26 413 L1172.42 419.67 L1172.58 426.37 L1172.75 433.01 L1172.93 439.72 L1173.14 446.55 L1173.34 453.31 L1173.51 459.86 L1173.63 466.02 L1173.68 470.75 L1173.72 475.29 L1173.75 479.67 L1173.79 483.91 L1173.85 488.03 L1173.95 491.55 L1174.1 495.01 L1174.29 498.36 L1174.51 501.56 L1174.73 504.54 L1174.91 506.75 L1175.09 508.89 L1175.3 510.92 L1175.55 512.79 L1175.83 514.44 L1176.1 515.4 L1176.45 516.22 L1176.82 517.01 L1177.18 517.85 L1177.48 518.84 L1177.92 520.92 L1178.35 523.37 L1178.73 526.11 L1179.01 529.03 L1179.13 532.05 L1179.16 536.47 L1179.18 541.33 L1179.19 546.46 L1179.2 551.68 L1179.23 556.83 L1179.36 562.17 L1179.62 567.61 L1179.96 573.06 L1180.29 578.44 L1180.57 583.67 L1180.77 588.46 L1180.94 593.33 L1181.11 598.04 L1181.28 602.35 L1181.47 606.03 L1181.58 608.13 L1181.7 610.28 L1181.82 612.19 L1181.95 613.56 L1182.09 614.08 L1182.27 613.56 L1182.47 612.19 L1182.69 610.28 L1182.9 608.13 L1183.08 606.03 L1183.32 602.35 L1183.53 598.04 L1183.73 593.33 L1183.93 588.46 L1184.15 583.67 L1184.45 578.31 L1184.8 572.67 L1185.14 567.02 L1185.39 561.65 L1185.49 556.83 L1185.4 553.85 L1185.19 551.16 L1184.94 548.58 L1184.72 545.94 L1184.64 543.05 L1184.71 538.94 L1184.89 534.48 L1185.15 529.87 L1185.44 525.32 L1185.74 521.05 L1186 517.51 L1186.31 514.01 L1186.65 510.64 L1187.01 507.45 L1187.39 504.54 L1187.67 502.33 L1187.97 499.98 L1188.3 497.86 L1188.65 496.33 L1189.04 495.74 L1189.34 495.94 L1189.69 496.49 L1190.05 497.27 L1190.4 498.15 L1190.69 499.04 L1191.09 500.71 L1191.45 502.74 L1191.76 505.03 L1192.06 507.49 L1192.34 510.04 L1192.74 513.91 L1193.14 518.21 L1193.5 522.77 L1193.79 527.44 L1193.99 532.05 L1194.1 536.89 L1194.18 541.81 L1194.25 546.78 L1194.32 551.79 L1194.44 556.83 L1194.66 562.17 L1194.99 567.61 L1195.4 573.06 L1195.82 578.44 L1196.23 583.67 L1196.57 588.36 L1196.91 593.04 L1197.26 597.61 L1197.62 601.97 L1198.01 606.03 L1198.35 608.97 L1198.71 611.77 L1199.08 614.44 L1199.45 616.99 L1199.8 619.45 L1200.07 621.37 L1200.34 623.23 L1200.6 625.02 L1200.86 626.74 L1201.14 628.39 L1201.38 629.77 L1201.61 631.14 L1201.86 632.45 L1202.14 633.64 L1202.49 634.65 L1202.81 635.29 L1203.22 635.88 L1203.68 636.41 L1204.19 636.9 L1204.72 637.33 L1205.33 637.76 L1206.01 638.15 L1206.74 638.5 L1207.51 638.83 L1208.3 639.12 L1209.27 639.46 L1210.29 639.8 L1211.36 640.1 L1212.48 640.33 L1213.67 640.47 L1215.17 640.55 L1216.67 640.63 L1218.32 640.68 L1220.26 640.72 L1222.61 640.73 L1244.78 640.73 L1282.65 640.73 L1335.71 640.73 L1403.4 640.72 L1485.2 640.7" fill="none" stroke="#00f" stroke-width="4.86" stroke-linejoin="round" stroke-linecap="butt" />
<path d="M864.81 639.9 L866.82 639.86 L868.83 639.83 L870.84 639.79 L872.85 639.76 L874.86 639.73 L876.87 639.7 L878.88 639.66 L880.89 639.63 L882.91 639.6 L884.92 639.57 L886.93 639.53 L888.94 639.5 L890.96 639.47 L892.97 639.43 L894.98 639.4 L897 639.37 L899.01 639.33 L901.02 639.29 L903.04 639.26 L905.05 639.22 L907.07 639.18 L909.08 639.15 L911.1 639.11 L913.11 639.07 L915.13 639.02 L917.14 638.98 L919.16 638.94 L921.17 638.89 L923.19 638.85 L925.2 638.8 L927.22 638.75 L929.23 638.7 L931.25 638.65 L933.26 638.59 L935.28 638.54 L937.29 638.48 L939.31 638.42 L941.32 638.36 L943.34 638.29 L945.35 638.23 L947.37 638.16 L949.38 638.09 L951.4 638.02 L953.41 637.95 L955.43 637.87 L957.44 637.79 L959.45 637.71 L961.47 637.63 L963.48 637.54 L965.5 637.45 L967.51 637.36 L969.53 637.26 L971.54 637.17 L973.55 637.06 L975.57 636.96 L977.58 636.85 L979.6 636.74 L981.61 636.63 L983.62 636.51 L985.64 636.39 L987.65 636.27 L989.66 636.14 L991.68 636.01 L993.69 635.88 L995.7 635.74 L997.72 635.6 L999.73 635.45 L1001.74 635.3 L1003.75 635.15 L1005.76 634.99 L1007.77 634.81 L1009.78 634.63 L1011.79 634.43 L1013.79 634.22 L1015.8 633.98 L1017.8 633.73 L1019.79 633.46 L1021.78 633.16 L1023.77 632.83 L1025.76 632.48 L1027.74 632.09 L1029.72 631.67 L1031.69 631.22 L1033.66 630.73 L1035.62 630.21 L1037.58 629.65 L1039.53 629.05 L1041.48 628.43 L1043.43 627.77 L1045.37 627.08 L1047.31 626.35 L1049.24 625.6 L1051.17 624.82 L1053.09 624.01 L1055 623.16 L1056.91 622.3 L1058.81 621.4 L1060.71 620.48 L1062.6 619.53 L1064.47 618.56 L1066.34 617.56 L1068.2 616.54 L1070.05 615.5 L1071.89 614.44 L1073.71 613.36 L1075.52 612.25 L1077.32 611.13 L1079.1 609.99 L1080.86 608.83 L1082.6 607.66 L1084.32 606.47 L1086.02 605.26 L1087.7 604.05 L1089.35 602.81 L1090.98 601.57 L1092.58 600.31 L1094.15 599.05 L1095.71 597.76 L1097.26 596.47 L1098.79 595.16 L1100.31 593.84 L1101.82 592.5 L1103.31 591.16 L1104.79 589.8 L1106.26 588.43 L1107.71 587.04 L1109.16 585.64 L1110.58 584.24 L1112 582.82 L1113.4 581.38 L1114.79 579.94 L1116.17 578.48 L1117.54 577.02 L1118.89 575.54 L1120.23 574.05 L1121.56 572.55 L1122.88 571.04 L1124.18 569.52 L1125.47 567.99 L1126.76 566.45 L1128.02 564.9 L1129.28 563.34 L1130.53 561.77 L1131.76 560.19 L1132.98 558.6 L1134.19 557 L1135.39 555.39 L1136.58 553.77 L1137.75 552.15 L1138.92 550.51 L1140.07 548.87 L1141.21 547.22 L1142.35 545.56 L1143.47 543.89 L1144.58 542.22 L1145.67 540.53 L1146.76 538.84 L1147.84 537.14 L1148.91 535.44 L1149.96 533.73 L1151.01 532.01 L1152.04 530.28 L1153.07 528.55 L1154.08 526.81 L1155.09 525.06 L1156.08 523.31 L1157.07 521.55 L1158.04 519.78 L1159 518.01 L1159.96 516.24 L1160.9 514.45 L1161.84 512.67 L1162.76 510.87 L1163.68 509.08 L1164.59 507.28 L1165.48 505.47 L1166.37 503.66 L1167.25 501.84 L1168.12 500.02 L1168.98 498.2 L1169.83 496.37 L1170.67 494.54 L1171.5 492.7 L1172.32 490.86 L1173.14 489.02 L1173.95 487.17 L1174.74 485.32 L1175.53 483.47 L1176.31 481.62 L1177.09 479.76 L1177.85 477.9 L1178.6 476.03 L1179.35 474.16 L1180.09 472.29 L1180.82 470.42 L1181.55 468.55 L1182.26 466.67 L1182.97 464.79 L1183.67 462.9 L1184.36 461.02 L1185.05 459.13 L1185.72 457.23 L1186.4 455.34 L1187.06 453.44 L1187.71 451.54 L1188.36 449.64 L1189 447.74 L1189.63 445.83 L1190.25 443.92 L1190.85 442.01 L1191.45 440.1 L1192.03 438.18 L1192.6 436.26 L1193.17 434.34 L1193.72 432.42 L1194.27 430.5 L1194.8 428.57 L1195.33 426.64 L1195.85 424.71 L1196.36 422.78 L1196.86 420.84 L1197.35 418.91 L1197.83 416.97 L1198.31 415.03 L1198.78 413.09 L1199.24 411.14 L1199.69 409.2 L1200.14 407.25 L1200.58 405.3 L1201.02 403.35 L1201.45 401.4 L1201.87 399.45 L1202.28 397.49 L1202.7 395.53 L1203.1 393.58 L1203.5 391.62 L1203.9 389.66 L1204.29 387.69 L1204.68 385.73 L1205.06 383.77 L1205.45 381.8 L1205.82 379.83 L1206.2 377.86 L1206.57 375.89 L1206.93 373.92 L1207.3 371.95 L1207.66 369.98 L1208.02 368.01 L1208.38 366.03 L1208.74 364.06 L1209.1 362.08 L1209.45 360.1 L1209.81 358.12 L1210.16 356.14 L1210.51 354.17 L1210.87 352.18 L1211.22 350.2 L1211.58 348.22 L1211.93 346.24 L1212.29 344.26 L1212.64 342.27 L1213 340.29 L1213.36 338.31 L1213.73 336.32 L1214.09 334.34 L1214.46 332.35 L1214.83 330.36 L1215.2 328.38 L1215.57 326.39 L1215.93 324.4 L1216.3 322.42 L1216.66 320.43 L1217.03 318.44 L1217.39 316.46 L1217.75 314.47 L1218.1 312.48 L1218.46 310.49 L1218.82 308.51 L1219.17 306.52 L1219.53 304.53 L1219.88 302.55 L1220.23 300.56 L1220.58 298.57 L1220.93 296.59 L1221.28 294.6 L1221.63 292.61 L1221.98 290.63 L1222.33 288.64 L1222.68 286.66 L1223.03 284.68 L1223.38 282.69 L1223.73 280.71 L1224.08 278.73 L1224.43 276.75 L1224.78 274.76 L1225.13 272.78 L1225.48 270.8 L1225.83 268.83 L1226.18 266.85 L1226.53 264.87 L1226.88 262.89 L1227.24 260.92 L1227.59 258.94 L1227.95 256.97 L1228.3 255 L1228.66 253.02 L1229.02 251.05 L1229.38 249.08 L1229.73 247.11 L1230.09 245.14 L1230.45 243.17 L1230.82 241.2 L1231.18 239.23 L1231.54 237.26 L1231.9 235.3 L1232.27 233.33 L1232.63 231.36 L1232.99 229.39 L1233.36 227.42 L1233.72 225.46 L1234.09 223.49 L1234.45 221.52 L1234.82 219.55 L1235.19 217.58 L1235.55 215.61 L1235.92 213.64 L1236.29 211.67 L1236.65 209.7 L1237.02 207.73 L1237.39 205.76 L1237.76 203.79 L1238.12 201.82 L1238.49 199.84 L1238.86 197.87 L1239.23 195.89 L1239.59 193.92 L1239.96 191.94 L1240.33 189.96 L1240.7 187.98 L1241.06 186 L1241.43 184.02 L1241.8 182.04 L1242.16 180.05 L1242.53 178.07 L1242.89 176.08 L1243.26 174.09 L1243.62 172.1 L1243.99 170.11 L1244.35 168.12 L1244.71 166.12 L1245.08 164.13 L1245.44 162.13 L1245.8 160.13 L1246.16 158.12 L1246.52 156.12 L1246.88 154.11 L1247.24 152.11 L1247.6 150.1 L1247.96 148.08 L1248.31 146.07 L1248.67 144.05 L1249.03 142.03 L1249.38 140.01 L1249.74 137.99 L1250.1 135.96 L1250.48 133.93 L1250.87 131.91 L1251.28 129.89 L1251.71 127.87 L1252.17 125.87 L1252.66 123.87 L1253.19 121.89 L1253.75 119.92 L1254.36 117.98 L1255.01 116.05 L1255.72 114.15 L1256.48 112.27 L1257.3 110.42 L1258.19 108.6 L1259.15 106.81 L1260.18 105.07 L1261.27 103.44 L1262.43 102 L1263.63 100.84 L1264.88 100.03 L1266.16 99.66 L1267.48 99.79 L1268.78 100.36 L1270.07 101.32 L1271.29 102.61 L1272.45 104.16 L1273.49 105.91 L1274.43 107.82 L1275.29 109.84 L1276.09 111.95 L1276.86 114.1 L1277.61 116.26 L1278.37 118.4 L1279.12 120.51 L1279.88 122.6 L1280.62 124.66 L1281.36 126.69 L1282.09 128.71 L1282.8 130.71 L1283.49 132.69 L1284.15 134.65 L1284.79 136.6 L1285.4 138.54 L1285.98 140.47 L1286.55 142.39 L1287.11 144.3 L1287.66 146.21 L1288.21 148.12 L1288.75 150.02 L1289.29 151.93 L1289.82 153.83 L1290.33 155.74 L1290.84 157.66 L1291.35 159.57 L1291.84 161.49 L1292.33 163.41 L1292.81 165.34 L1293.28 167.27 L1293.74 169.2 L1294.2 171.14 L1294.64 173.08 L1295.09 175.02 L1295.52 176.96 L1295.95 178.91 L1296.37 180.86 L1296.79 182.81 L1297.19 184.77 L1297.6 186.72 L1297.99 188.68 L1298.38 190.65 L1298.77 192.61 L1299.15 194.58 L1299.52 196.55 L1299.89 198.52 L1300.25 200.49 L1300.6 202.46 L1300.96 204.44 L1301.3 206.42 L1301.64 208.4 L1301.98 210.38 L1302.31 212.37 L1302.64 214.35 L1302.96 216.34 L1303.28 218.33 L1303.6 220.32 L1303.91 222.31 L1304.22 224.3 L1304.52 226.29 L1304.82 228.29 L1305.12 230.29 L1305.41 232.28 L1305.7 234.28 L1305.99 236.28 L1306.28 238.28 L1306.56 240.28 L1306.84 242.28 L1307.11 244.28 L1307.39 246.28 L1307.66 248.29 L1307.93 250.29 L1308.2 252.29 L1308.46 254.29 L1308.73 256.3 L1308.99 258.3 L1309.25 260.31 L1309.51 262.31 L1309.77 264.32 L1310.03 266.32 L1310.28 268.32 L1310.54 270.33 L1310.79 272.33 L1311.05 274.34 L1311.3 276.34 L1311.55 278.34 L1311.8 280.35 L1312.05 282.35 L1312.3 284.35 L1312.55 286.36 L1312.79 288.36 L1313.04 290.36 L1313.29 292.37 L1313.53 294.37 L1313.78 296.37 L1314.02 298.38 L1314.26 300.38 L1314.51 302.38 L1314.75 304.39 L1314.99 306.39 L1315.24 308.39 L1315.48 310.39 L1315.72 312.4 L1315.96 314.4 L1316.2 316.4 L1316.44 318.4 L1316.69 320.4 L1316.93 322.41 L1317.17 324.41 L1317.41 326.41 L1317.65 328.41 L1317.89 330.41 L1318.14 332.41 L1318.38 334.41 L1318.62 336.41 L1318.87 338.41 L1319.11 340.41 L1319.35 342.41 L1319.6 344.41 L1319.84 346.41 L1320.09 348.41 L1320.33 350.41 L1320.58 352.41 L1320.83 354.41 L1321.07 356.41 L1321.32 358.4 L1321.57 360.4 L1321.82 362.4 L1322.07 364.4 L1322.33 366.39 L1322.58 368.39 L1322.83 370.39 L1323.09 372.39 L1323.35 374.38 L1323.6 376.38 L1323.86 378.37 L1324.12 380.37 L1324.38 382.36 L1324.65 384.36 L1324.91 386.35 L1325.17 388.35 L1325.44 390.34 L1325.71 392.34 L1325.98 394.33 L1326.25 396.32 L1326.52 398.32 L1326.8 400.31 L1327.07 402.3 L1327.35 404.29 L1327.63 406.28 L1327.91 408.28 L1328.2 410.27 L1328.48 412.26 L1328.77 414.25 L1329.06 416.24 L1329.35 418.23 L1329.64 420.22 L1329.94 422.2 L1330.23 424.19 L1330.53 426.18 L1330.84 428.17 L1331.14 430.16 L1331.45 432.14 L1331.76 434.13 L1332.07 436.12 L1332.38 438.1 L1332.7 440.09 L1333.02 442.07 L1333.34 444.06 L1333.66 446.04 L1333.99 448.02 L1334.32 450.01 L1334.65 451.99 L1334.98 453.97 L1335.32 455.96 L1335.66 457.94 L1336 459.92 L1336.35 461.9 L1336.7 463.88 L1337.05 465.86 L1337.41 467.84 L1337.77 469.82 L1338.13 471.8 L1338.49 473.77 L1338.86 475.75 L1339.23 477.73 L1339.61 479.71 L1339.99 481.68 L1340.37 483.66 L1340.76 485.63 L1341.15 487.61 L1341.54 489.58 L1341.94 491.55 L1342.35 493.52 L1342.77 495.49 L1343.19 497.46 L1343.61 499.42 L1344.05 501.39 L1344.49 503.35 L1344.94 505.31 L1345.39 507.27 L1345.86 509.22 L1346.33 511.18 L1346.82 513.13 L1347.31 515.08 L1347.81 517.03 L1348.32 518.97 L1348.85 520.91 L1349.38 522.85 L1349.92 524.79 L1350.46 526.72 L1351.02 528.65 L1351.58 530.58 L1352.15 532.5 L1352.74 534.42 L1353.33 536.34 L1353.93 538.25 L1354.55 540.16 L1355.18 542.06 L1355.82 543.96 L1356.47 545.86 L1357.14 547.75 L1357.82 549.64 L1358.52 551.52 L1359.23 553.4 L1359.95 555.28 L1360.7 557.15 L1361.46 559.01 L1362.23 560.87 L1363.03 562.73 L1363.84 564.58 L1364.67 566.42 L1365.52 568.25 L1366.39 570.07 L1367.28 571.88 L1368.19 573.68 L1369.13 575.47 L1370.09 577.24 L1371.07 578.99 L1372.08 580.73 L1373.11 582.44 L1374.17 584.14 L1375.26 585.81 L1376.37 587.46 L1377.51 589.09 L1378.68 590.69 L1379.88 592.26 L1381.11 593.8 L1382.37 595.32 L1383.66 596.8 L1384.98 598.25 L1386.33 599.67 L1387.72 601.05 L1389.14 602.4 L1390.59 603.71 L1392.07 604.98 L1393.59 606.21 L1395.14 607.41 L1396.71 608.58 L1398.32 609.71 L1399.95 610.81 L1401.61 611.88 L1403.3 612.91 L1405 613.91 L1406.74 614.89 L1408.49 615.83 L1410.27 616.75 L1412.07 617.64 L1413.88 618.5 L1415.72 619.34 L1417.57 620.15 L1419.44 620.93 L1421.32 621.69 L1423.22 622.43 L1425.13 623.15 L1427.05 623.84 L1428.99 624.52 L1430.93 625.17 L1432.88 625.81 L1434.84 626.42 L1436.81 627.02 L1438.78 627.6 L1440.76 628.17 L1442.75 628.72 L1444.73 629.26 L1446.72 629.78 L1448.71 630.29 L1450.71 630.78 L1452.7 631.27 L1454.69 631.74 L1456.68 632.21 L1458.66 632.66 L1460.64 633.11 L1462.62 633.55 L1464.59 633.98 L1466.55 634.4 L1468.5 634.83 L1470.45 635.24 L1472.39 635.65 L1474.31 636.06 L1476.23 636.47 L1478.13 636.87 L1480.01 637.28 L1481.89 637.68 L1483.74 638.09 L1485.58 638.5" fill="none" stroke="#f00" stroke-width="4.86" stroke-linejoin="round" stroke-linecap="butt" stroke-dasharray="17 6.2" />
<path d="M864.8 640.6 L866.43 640.57 L868.05 640.53 L869.68 640.51 L871.31 640.48 L872.93 640.46 L874.56 640.43 L876.19 640.41 L877.81 640.39 L879.44 640.38 L881.07 640.36 L882.69 640.35 L884.32 640.34 L885.95 640.33 L887.57 640.32 L889.2 640.31 L890.83 640.3 L892.45 640.3 L894.08 640.3 L895.71 640.29 L897.33 640.29 L898.96 640.29 L900.59 640.29 L902.22 640.29 L903.84 640.3 L905.47 640.3 L907.1 640.3 L908.72 640.31 L910.35 640.31 L911.98 640.32 L913.6 640.32 L915.23 640.33 L916.86 640.34 L918.49 640.34 L920.11 640.35 L921.74 640.36 L923.37 640.36 L924.99 640.37 L926.62 640.38 L928.25 640.38 L929.87 640.39 L931.5 640.39 L933.13 640.4 L934.76 640.4 L936.38 640.41 L938.01 640.41 L939.64 640.42 L941.26 640.42 L942.89 640.42 L944.52 640.42 L946.14 640.42 L947.77 640.42 L949.4 640.42 L951.02 640.41 L952.65 640.41 L954.28 640.4 L955.9 640.4 L957.53 640.39 L959.16 640.38 L960.78 640.37 L962.41 640.35 L964.04 640.34 L965.66 640.32 L967.29 640.3 L968.92 640.28 L970.54 640.26 L972.17 640.24 L973.79 640.21 L975.42 640.18 L977.05 640.15 L978.67 640.12 L980.3 640.08 L981.92 640.05 L983.55 640.01 L985.18 639.96 L986.8 639.92 L988.43 639.87 L990.05 639.82 L991.68 639.77 L993.3 639.71 L994.93 639.65 L996.56 639.59 L998.18 639.52 L999.81 639.45 L1001.43 639.38 L1003.06 639.31 L1004.68 639.23 L1006.31 639.15 L1007.93 639.06 L1009.56 638.97 L1011.18 638.88 L1012.81 638.79 L1014.43 638.69 L1016.05 638.58 L1017.68 638.48 L1019.3 638.36 L1020.93 638.25 L1022.55 638.13 L1024.18 638 L1025.8 637.87 L1027.42 637.73 L1029.04 637.58 L1030.66 637.42 L1032.28 637.25 L1033.89 637.06 L1035.51 636.86 L1037.12 636.65 L1038.72 636.42 L1040.33 636.17 L1041.93 635.9 L1043.53 635.62 L1045.12 635.31 L1046.72 634.98 L1048.3 634.63 L1049.88 634.26 L1051.46 633.86 L1053.03 633.43 L1054.6 632.97 L1056.16 632.49 L1057.71 631.98 L1059.26 631.44 L1060.79 630.87 L1062.31 630.27 L1063.82 629.64 L1065.31 628.97 L1066.78 628.28 L1068.24 627.55 L1069.68 626.8 L1071.1 626.01 L1072.5 625.18 L1073.87 624.32 L1075.23 623.43 L1076.55 622.5 L1077.85 621.54 L1079.12 620.54 L1080.36 619.51 L1081.57 618.44 L1082.75 617.34 L1083.91 616.2 L1085.03 615.04 L1086.13 613.84 L1087.2 612.62 L1088.25 611.38 L1089.27 610.11 L1090.27 608.81 L1091.25 607.5 L1092.2 606.17 L1093.13 604.83 L1094.04 603.46 L1094.93 602.09 L1095.8 600.7 L1096.65 599.3 L1097.48 597.9 L1098.29 596.48 L1099.08 595.06 L1099.86 593.63 L1100.62 592.19 L1101.36 590.75 L1102.09 589.3 L1102.8 587.84 L1103.49 586.37 L1104.17 584.9 L1104.84 583.42 L1105.49 581.93 L1106.12 580.44 L1106.74 578.94 L1107.35 577.44 L1107.94 575.93 L1108.52 574.41 L1109.08 572.89 L1109.64 571.37 L1110.18 569.84 L1110.71 568.3 L1111.23 566.77 L1111.73 565.22 L1112.23 563.67 L1112.71 562.12 L1113.19 560.57 L1113.65 559.01 L1114.11 557.44 L1114.55 555.88 L1114.99 554.31 L1115.42 552.74 L1115.84 551.16 L1116.25 549.58 L1116.66 548 L1117.05 546.42 L1117.44 544.83 L1117.83 543.25 L1118.2 541.66 L1118.57 540.07 L1118.94 538.48 L1119.3 536.88 L1119.65 535.29 L1120 533.7 L1120.35 532.1 L1120.69 530.51 L1121.03 528.91 L1121.36 527.31 L1121.69 525.72 L1122.02 524.12 L1122.35 522.52 L1122.67 520.93 L1122.99 519.33 L1123.3 517.73 L1123.62 516.13 L1123.93 514.54 L1124.23 512.94 L1124.54 511.34 L1124.84 509.74 L1125.14 508.15 L1125.44 506.55 L1125.74 504.95 L1126.03 503.35 L1126.32 501.75 L1126.62 500.15 L1126.9 498.55 L1127.19 496.96 L1127.47 495.36 L1127.76 493.76 L1128.04 492.16 L1128.32 490.56 L1128.6 488.96 L1128.88 487.36 L1129.15 485.76 L1129.43 484.16 L1129.7 482.56 L1129.98 480.96 L1130.25 479.36 L1130.52 477.76 L1130.79 476.16 L1131.06 474.56 L1131.33 472.95 L1131.6 471.35 L1131.87 469.75 L1132.14 468.15 L1132.41 466.55 L1132.68 464.95 L1132.95 463.34 L1133.22 461.74 L1133.49 460.14 L1133.75 458.54 L1134.02 456.94 L1134.29 455.33 L1134.56 453.73 L1134.83 452.13 L1135.1 450.52 L1135.37 448.92 L1135.64 447.32 L1135.91 445.71 L1136.18 444.11 L1136.45 442.51 L1136.72 440.9 L1136.99 439.3 L1137.26 437.7 L1137.53 436.09 L1137.8 434.49 L1138.07 432.88 L1138.33 431.28 L1138.6 429.67 L1138.87 428.07 L1139.14 426.46 L1139.4 424.86 L1139.67 423.25 L1139.94 421.65 L1140.2 420.04 L1140.47 418.44 L1140.73 416.83 L1140.99 415.22 L1141.25 413.62 L1141.52 412.01 L1141.78 410.41 L1142.04 408.8 L1142.3 407.19 L1142.56 405.59 L1142.81 403.98 L1143.07 402.37 L1143.33 400.77 L1143.58 399.16 L1143.84 397.55 L1144.09 395.94 L1144.34 394.34 L1144.6 392.73 L1144.85 391.12 L1145.1 389.51 L1145.35 387.91 L1145.61 386.3 L1145.86 384.69 L1146.11 383.09 L1146.37 381.48 L1146.62 379.87 L1146.88 378.27 L1147.14 376.66 L1147.4 375.05 L1147.66 373.45 L1147.92 371.84 L1148.19 370.24 L1148.45 368.64 L1148.72 367.03 L1148.99 365.43 L1149.27 363.83 L1149.54 362.23 L1149.82 360.62 L1150.11 359.02 L1150.39 357.42 L1150.68 355.82 L1150.97 354.23 L1151.27 352.63 L1151.57 351.03 L1151.87 349.44 L1152.18 347.84 L1152.5 346.25 L1152.81 344.65 L1153.14 343.06 L1153.46 341.47 L1153.8 339.88 L1154.13 338.29 L1154.48 336.7 L1154.82 335.11 L1155.17 333.53 L1155.53 331.94 L1155.89 330.36 L1156.25 328.77 L1156.61 327.19 L1156.98 325.6 L1157.34 324.02 L1157.71 322.44 L1158.08 320.85 L1158.45 319.27 L1158.82 317.69 L1159.18 316.1 L1159.55 314.52 L1159.91 312.93 L1160.28 311.35 L1160.64 309.77 L1160.99 308.18 L1161.34 306.59 L1161.69 305.01 L1162.04 303.42 L1162.38 301.83 L1162.71 300.24 L1163.04 298.65 L1163.36 297.05 L1163.68 295.46 L1163.99 293.86 L1164.29 292.27 L1164.59 290.67 L1164.89 289.07 L1165.18 287.47 L1165.46 285.87 L1165.74 284.27 L1166.02 282.67 L1166.29 281.07 L1166.56 279.46 L1166.82 277.86 L1167.08 276.25 L1167.33 274.65 L1167.58 273.04 L1167.83 271.43 L1168.07 269.82 L1168.3 268.22 L1168.54 266.61 L1168.77 264.99 L1168.99 263.38 L1169.22 261.77 L1169.44 260.16 L1169.65 258.55 L1169.87 256.93 L1170.08 255.32 L1170.29 253.71 L1170.49 252.09 L1170.69 250.48 L1170.89 248.86 L1171.09 247.24 L1171.29 245.63 L1171.48 244.01 L1171.67 242.39 L1171.86 240.78 L1172.04 239.16 L1172.23 237.54 L1172.41 235.92 L1172.59 234.31 L1172.77 232.69 L1172.95 231.07 L1173.13 229.45 L1173.3 227.83 L1173.48 226.21 L1173.65 224.6 L1173.82 222.98 L1174 221.36 L1174.17 219.74 L1174.34 218.12 L1174.51 216.5 L1174.68 214.89 L1174.85 213.27 L1175.02 211.65 L1175.19 210.03 L1175.36 208.42 L1175.53 206.8 L1175.7 205.18 L1175.87 203.57 L1176.04 201.95 L1176.21 200.33 L1176.38 198.72 L1176.55 197.1 L1176.72 195.49 L1176.89 193.87 L1177.05 192.26 L1177.22 190.64 L1177.39 189.03 L1177.56 187.41 L1177.73 185.8 L1177.89 184.18 L1178.06 182.57 L1178.22 180.95 L1178.39 179.33 L1178.55 177.72 L1178.71 176.1 L1178.87 174.48 L1179.03 172.87 L1179.18 171.25 L1179.34 169.63 L1179.49 168.01 L1179.65 166.4 L1179.8 164.78 L1179.94 163.16 L1180.09 161.54 L1180.23 159.92 L1180.38 158.3 L1180.52 156.67 L1180.65 155.05 L1180.79 153.43 L1180.92 151.8 L1181.05 150.18 L1181.18 148.55 L1181.3 146.93 L1181.42 145.3 L1181.54 143.67 L1181.66 142.04 L1181.77 140.41 L1181.88 138.78 L1181.99 137.15 L1182.1 135.52 L1182.21 133.88 L1182.33 132.25 L1182.46 130.62 L1182.59 128.99 L1182.74 127.36 L1182.91 125.74 L1183.1 124.12 L1183.3 122.5 L1183.53 120.88 L1183.78 119.27 L1184.06 117.66 L1184.38 116.05 L1184.72 114.45 L1185.1 112.86 L1185.52 111.27 L1185.97 109.69 L1186.47 108.11 L1187.02 106.54 L1187.62 105.1 L1188.33 104.13 L1189.17 103.95 L1190.12 104.55 L1191.16 105.73 L1192.22 107.3 L1193.27 109.06 L1194.27 110.81 L1195.2 112.36 L1196.18 113.52 L1197.31 114.11 L1198.56 114.14 L1199.81 113.68 L1200.94 112.83 L1201.89 111.67 L1202.69 110.26 L1203.39 108.67 L1204.06 106.96 L1204.75 105.21 L1205.51 103.47 L1206.39 101.84 L1207.41 100.43 L1208.59 99.34 L1209.93 98.69 L1211.31 98.56 L1212.61 99.03 L1213.78 99.96 L1214.8 101.14 L1215.65 102.42 L1216.37 103.8 L1216.96 105.27 L1217.43 106.8 L1217.82 108.39 L1218.14 110.03 L1218.4 111.71 L1218.62 113.4 L1218.82 115.1 L1219.01 116.8 L1219.23 118.49 L1219.46 120.15 L1219.73 121.79 L1220.01 123.42 L1220.31 125.02 L1220.63 126.62 L1220.96 128.2 L1221.31 129.77 L1221.66 131.34 L1222.01 132.9 L1222.36 134.46 L1222.71 136.03 L1223.06 137.59 L1223.41 139.16 L1223.76 140.73 L1224.1 142.3 L1224.44 143.87 L1224.78 145.45 L1225.12 147.02 L1225.46 148.6 L1225.8 150.18 L1226.13 151.76 L1226.47 153.35 L1226.8 154.93 L1227.14 156.52 L1227.47 158.11 L1227.8 159.7 L1228.14 161.3 L1228.47 162.89 L1228.8 164.49 L1229.14 166.09 L1229.47 167.69 L1229.81 169.3 L1230.15 170.91 L1230.48 172.51 L1230.82 174.12 L1231.16 175.74 L1231.51 177.35 L1231.85 178.97 L1232.19 180.59 L1232.54 182.21 L1232.9 183.83 L1233.27 185.44 L1233.67 187.04 L1234.1 188.61 L1234.58 190.16 L1235.1 191.67 L1235.68 193.15 L1236.33 194.58 L1237.06 195.97 L1237.86 197.29 L1238.76 198.56 L1239.76 199.75 L1240.87 200.87 L1242.05 201.94 L1243.27 203 L1244.46 204.08 L1245.57 205.24 L1246.55 206.5 L1247.39 207.88 L1248.1 209.36 L1248.72 210.89 L1249.27 212.47 L1249.79 214.05 L1250.28 215.63 L1250.73 217.21 L1251.16 218.8 L1251.56 220.39 L1251.93 221.99 L1252.29 223.58 L1252.62 225.18 L1252.93 226.78 L1253.23 228.38 L1253.51 229.98 L1253.78 231.58 L1254.03 233.19 L1254.28 234.79 L1254.52 236.4 L1254.76 238 L1254.99 239.61 L1255.22 241.21 L1255.45 242.82 L1255.69 244.42 L1255.92 246.03 L1256.16 247.63 L1256.41 249.24 L1256.65 250.84 L1256.9 252.45 L1257.16 254.05 L1257.41 255.65 L1257.67 257.26 L1257.93 258.86 L1258.19 260.46 L1258.46 262.06 L1258.73 263.67 L1259 265.27 L1259.27 266.87 L1259.55 268.47 L1259.83 270.07 L1260.11 271.67 L1260.39 273.27 L1260.67 274.87 L1260.96 276.47 L1261.25 278.07 L1261.54 279.67 L1261.84 281.27 L1262.13 282.87 L1262.43 284.47 L1262.73 286.06 L1263.03 287.66 L1263.34 289.26 L1263.64 290.86 L1263.95 292.45 L1264.26 294.05 L1264.57 295.65 L1264.88 297.24 L1265.2 298.84 L1265.51 300.44 L1265.83 302.03 L1266.15 303.63 L1266.47 305.22 L1266.79 306.82 L1267.11 308.42 L1267.43 310.01 L1267.76 311.61 L1268.09 313.2 L1268.41 314.8 L1268.74 316.39 L1269.07 317.98 L1269.4 319.58 L1269.73 321.17 L1270.06 322.77 L1270.4 324.36 L1270.73 325.95 L1271.06 327.55 L1271.4 329.14 L1271.73 330.73 L1272.07 332.33 L1272.41 333.92 L1272.74 335.51 L1273.08 337.11 L1273.42 338.7 L1273.76 340.29 L1274.1 341.89 L1274.44 343.48 L1274.77 345.07 L1275.11 346.66 L1275.45 348.26 L1275.79 349.85 L1276.13 351.44 L1276.47 353.03 L1276.81 354.62 L1277.15 356.22 L1277.49 357.81 L1277.83 359.4 L1278.17 360.99 L1278.51 362.58 L1278.84 364.18 L1279.18 365.77 L1279.52 367.36 L1279.86 368.95 L1280.19 370.54 L1280.53 372.14 L1280.86 373.73 L1281.2 375.32 L1281.53 376.91 L1281.86 378.5 L1282.2 380.1 L1282.53 381.69 L1282.86 383.28 L1283.19 384.87 L1283.52 386.46 L1283.85 388.05 L1284.18 389.65 L1284.51 391.24 L1284.84 392.83 L1285.17 394.42 L1285.5 396.01 L1285.83 397.6 L1286.16 399.19 L1286.5 400.79 L1286.83 402.38 L1287.16 403.97 L1287.49 405.56 L1287.82 407.15 L1288.15 408.74 L1288.48 410.33 L1288.81 411.92 L1289.14 413.51 L1289.47 415.1 L1289.81 416.69 L1290.14 418.28 L1290.47 419.87 L1290.81 421.46 L1291.14 423.05 L1291.48 424.64 L1291.81 426.23 L1292.15 427.82 L1292.48 429.41 L1292.82 431 L1293.16 432.59 L1293.5 434.18 L1293.84 435.77 L1294.18 437.35 L1294.53 438.94 L1294.87 440.53 L1295.21 442.12 L1295.56 443.71 L1295.91 445.29 L1296.25 446.88 L1296.6 448.47 L1296.95 450.05 L1297.3 451.64 L1297.66 453.23 L1298.01 454.81 L1298.37 456.4 L1298.72 457.99 L1299.08 459.57 L1299.44 461.16 L1299.8 462.74 L1300.17 464.33 L1300.53 465.91 L1300.9 467.49 L1301.27 469.08 L1301.64 470.66 L1302.01 472.25 L1302.38 473.83 L1302.76 475.41 L1303.13 476.99 L1303.51 478.58 L1303.89 480.16 L1304.28 481.74 L1304.66 483.32 L1305.05 484.9 L1305.44 486.48 L1305.83 488.06 L1306.22 489.64 L1306.62 491.22 L1307.02 492.8 L1307.42 494.38 L1307.82 495.96 L1308.23 497.54 L1308.64 499.12 L1309.05 500.7 L1309.46 502.27 L1309.88 503.85 L1310.29 505.43 L1310.71 507 L1311.14 508.58 L1311.56 510.15 L1311.99 511.73 L1312.43 513.3 L1312.87 514.87 L1313.31 516.45 L1313.75 518.02 L1314.2 519.58 L1314.65 521.15 L1315.11 522.72 L1315.58 524.28 L1316.04 525.85 L1316.52 527.41 L1316.99 528.97 L1317.48 530.52 L1317.97 532.08 L1318.46 533.63 L1318.96 535.18 L1319.47 536.73 L1319.98 538.27 L1320.5 539.82 L1321.03 541.36 L1321.56 542.89 L1322.1 544.43 L1322.65 545.96 L1323.21 547.49 L1323.77 549.01 L1324.34 550.53 L1324.92 552.05 L1325.5 553.56 L1326.1 555.07 L1326.7 556.58 L1327.32 558.08 L1327.94 559.58 L1328.57 561.08 L1329.21 562.57 L1329.86 564.05 L1330.51 565.53 L1331.18 567.01 L1331.86 568.48 L1332.55 569.95 L1333.25 571.41 L1333.96 572.87 L1334.68 574.32 L1335.41 575.77 L1336.15 577.21 L1336.9 578.65 L1337.66 580.08 L1338.44 581.5 L1339.23 582.92 L1340.03 584.34 L1340.84 585.75 L1341.66 587.15 L1342.5 588.54 L1343.35 589.93 L1344.21 591.32 L1345.09 592.69 L1345.97 594.06 L1346.88 595.42 L1347.79 596.77 L1348.73 598.12 L1349.67 599.45 L1350.64 600.76 L1351.62 602.07 L1352.62 603.36 L1353.63 604.63 L1354.66 605.89 L1355.72 607.12 L1356.79 608.34 L1357.88 609.54 L1358.99 610.72 L1360.13 611.88 L1361.28 613.02 L1362.46 614.12 L1363.66 615.21 L1364.88 616.27 L1366.13 617.3 L1367.4 618.3 L1368.7 619.27 L1370.02 620.22 L1371.36 621.13 L1372.72 622.02 L1374.1 622.88 L1375.5 623.71 L1376.93 624.52 L1378.36 625.3 L1379.82 626.05 L1381.29 626.77 L1382.77 627.47 L1384.27 628.14 L1385.78 628.79 L1387.3 629.41 L1388.83 630.01 L1390.37 630.58 L1391.92 631.12 L1393.47 631.65 L1395.03 632.14 L1396.6 632.62 L1398.17 633.07 L1399.75 633.5 L1401.33 633.9 L1402.91 634.29 L1404.49 634.65 L1406.07 634.99 L1407.66 635.32 L1409.25 635.62 L1410.85 635.91 L1412.44 636.18 L1414.04 636.43 L1415.64 636.67 L1417.24 636.89 L1418.85 637.1 L1420.45 637.3 L1422.06 637.49 L1423.67 637.66 L1425.28 637.82 L1426.9 637.97 L1428.51 638.12 L1430.13 638.25 L1431.75 638.38 L1433.37 638.5 L1434.99 638.62 L1436.61 638.73 L1438.24 638.84 L1439.86 638.94 L1441.49 639.04 L1443.12 639.13 L1444.74 639.22 L1446.37 639.3 L1448 639.38 L1449.63 639.46 L1451.26 639.53 L1452.9 639.6 L1454.53 639.67 L1456.16 639.73 L1457.79 639.79 L1459.42 639.84 L1461.05 639.89 L1462.68 639.93 L1464.31 639.98 L1465.94 640.02 L1467.57 640.05 L1469.2 640.08 L1470.83 640.11 L1472.45 640.13 L1474.08 640.15 L1475.71 640.17 L1477.33 640.18 L1478.95 640.19 L1480.57 640.2 L1482.19 640.2 L1483.81 640.2 L1485.42 640.2" fill="none" stroke="#00f" stroke-width="4.86" stroke-linejoin="round" stroke-linecap="butt" stroke-dasharray="17 6.2" stroke-dashoffset="9"/>
</g>
<rect x="864.8" y="71" width="620.4" height="596.9" fill="none" stroke="#000" stroke-width="2.92"/>
<rect x="876.7" y="83.1" width="261.3" height="140.8" rx="4.5" ry="4.5" fill="#fff" fill-opacity="0.8" stroke="#ccc" stroke-opacity="0.8" stroke-width="1.6"/>
<path d="M883.7 101.05 L936 101.05" fill="none" stroke="#f00" stroke-width="4.86" stroke-linejoin="round" stroke-linecap="butt" />
<g fill="#000"><text x="953" y="107.75" font-family='"DejaVu Sans", "Liberation Sans", sans-serif' font-size="23.61" font-style="italic">PBM linear</text></g>
<path d="M883.7 134.5 L936 134.5" fill="none" stroke="#00f" stroke-width="4.86" stroke-linejoin="round" stroke-linecap="butt" />
<g fill="#000"><text x="953" y="141.2" font-family='"DejaVu Sans", "Liberation Sans", sans-serif' font-size="23.61" font-style="italic">EDW linear</text></g>
<path d="M886.1 168.2 L933.6 168.2" fill="none" stroke="#f00" stroke-width="4.86" stroke-linejoin="round" stroke-linecap="butt" stroke-dasharray="17 6.2" />
<g fill="#000"><text x="953" y="174.9" font-family='"DejaVu Sans", "Liberation Sans", sans-serif' font-size="23.61" font-style="italic">PBM nonlinear</text></g>
<path d="M886.1 201.6 L933.6 201.6" fill="none" stroke="#00f" stroke-width="4.86" stroke-linejoin="round" stroke-linecap="butt" stroke-dasharray="17 6.2" />
<g fill="#000"><text x="953" y="208.3" font-family='"DejaVu Sans", "Liberation Sans", sans-serif' font-size="23.61" font-style="italic">EDW nonlinear</text></g>
<g fill="#000"><text x="1402.8" y="138.6" font-family='"Liberation Sans", sans-serif' font-size="52.78">(b)</text></g>
<g fill="#000"><text x="1152.5" y="731" font-family='"DejaVu Sans", "Liberation Sans", sans-serif' font-size="34.72" font-style="italic">ψ</text><text x="1176.41" y="736.6" font-family='"DejaVu Sans", "Liberation Sans", sans-serif' font-size="25" font-style="italic">N</text></g>
<g transform="translate(806 513) rotate(-90)" fill="#000"><text transform="translate(0 0) scale(1 1.06)" font-family='"Liberation Sans", sans-serif' font-size="34.72" letter-spacing="0.4">Normalized </text><text x="190.14" y="0" font-family='"DejaVu Sans", "Liberation Sans", sans-serif' font-size="35.56" font-style="italic">δ</text><text x="211.5" y="0" font-family='"DejaVu Sans", "Liberation Sans", sans-serif' font-size="35.56" font-style="italic">p</text><text x="234.97" y="1.2" font-family='"DejaVu Sans", "Liberation Sans", sans-serif' font-size="38.19" font-style="italic">/</text><text x="245.63" y="0" font-family='"DejaVu Sans", "Liberation Sans", sans-serif' font-size="35.56" font-style="italic">p</text><text x="269.4" y="6.2" font-family='"DejaVu Sans", "Liberation Sans", sans-serif' font-size="24.31">0</text></g>
</g>
<g id="panel-c">
<clipPath id="clipc"><rect x="115" y="749" width="639.7" height="307"/></clipPath>
<rect x="328.23" y="749" width="142.16" height="307" fill="#808080" fill-opacity="0.3" stroke="#808080" stroke-opacity="0.3" stroke-width="1.39"/>
<line x1="257.16" y1="1056" x2="257.16" y2="1040.8" stroke="#000" stroke-width="3"/>
<line x1="399.31" y1="1056" x2="399.31" y2="1040.8" stroke="#000" stroke-width="3"/>
<line x1="541.47" y1="1056" x2="541.47" y2="1040.8" stroke="#000" stroke-width="3"/>
<line x1="683.62" y1="1056" x2="683.62" y2="1040.8" stroke="#000" stroke-width="3"/>
<line x1="115" y1="797.7" x2="130.2" y2="797.7" stroke="#000" stroke-width="3"/>
<g fill="#000"><text transform="translate(50.98 812.6) scale(1 1.06)" font-family='"Liberation Sans", sans-serif' font-size="29.17">10</text><text transform="translate(83.72 792.2) scale(1 1.06)" font-family='"Liberation Sans", sans-serif' font-size="20.42">−1</text></g>
<line x1="115" y1="895.2" x2="130.2" y2="895.2" stroke="#000" stroke-width="3"/>
<g fill="#000"><text transform="translate(50.98 910.1) scale(1 1.06)" font-family='"Liberation Sans", sans-serif' font-size="29.17">10</text><text transform="translate(83.72 889.7) scale(1 1.06)" font-family='"Liberation Sans", sans-serif' font-size="20.42">−3</text></g>
<line x1="115" y1="992.7" x2="130.2" y2="992.7" stroke="#000" stroke-width="3"/>
<g fill="#000"><text transform="translate(50.98 1007.6) scale(1 1.06)" font-family='"Liberation Sans", sans-serif' font-size="29.17">10</text><text transform="translate(83.72 987.2) scale(1 1.06)" font-family='"Liberation Sans", sans-serif' font-size="20.42">−5</text></g>
<g clip-path="url(#clipc)">
<path d="M115.33 1040.67 L116.36 1038.74 L117.36 1036.76 L118.36 1034.73 L119.33 1032.67 L120.33 1030.22 L121.28 1027.58 L122.26 1025.16 L123.33 1023.33 L124.11 1022.41 L124.95 1021.55 L125.82 1020.91 L126.67 1020.67 L127.54 1020.92 L128.44 1021.56 L129.29 1022.42 L130 1023.33 L130.8 1024.9 L131.48 1026.93 L132.1 1029.16 L132.67 1031.33 L133.21 1033.48 L133.7 1035.66 L134.18 1037.85 L134.67 1040 L135.16 1042.4 L135.66 1045.02 L136.16 1047.13 L136.67 1048 L137.17 1047.15 L137.68 1045.06 L138.18 1042.44 L138.67 1040 L139.16 1037.55 L139.63 1034.97 L140.11 1032.42 L140.67 1030 L141.22 1027.89 L141.84 1025.78 L142.54 1023.89 L143.33 1022.4 L144.03 1021.51 L144.83 1020.68 L145.73 1020.05 L146.67 1019.73 L147.75 1019.64 L148.95 1019.6 L150.17 1019.55 L151.33 1019.47 L152.37 1019.22 L153.38 1018.81 L154.36 1018.39 L155.33 1018.13 L156.19 1018.03 L157.04 1017.95 L157.87 1017.89 L158.67 1017.87 L159.56 1018.15 L160.43 1018.85 L161.25 1019.76 L162 1020.67 L162.71 1021.73 L163.35 1022.96 L163.98 1024.21 L164.67 1025.33 L165.39 1026.38 L166.17 1027.47 L166.97 1028.32 L167.73 1028.67 L168.5 1028.27 L169.24 1027.26 L169.97 1025.96 L170.67 1024.67 L171.52 1022.88 L172.32 1020.81 L173.12 1018.67 L174 1016.67 L174.9 1014.89 L175.86 1013.15 L176.88 1011.5 L178 1010 L179.19 1008.58 L180.51 1007.16 L181.91 1005.99 L183.33 1005.33 L184.63 1005.07 L185.98 1004.86 L187.35 1004.72 L188.67 1004.67 L189.88 1004.79 L191.07 1005.11 L192.22 1005.54 L193.33 1006 L194.38 1006.59 L195.38 1007.36 L196.35 1008.12 L197.33 1008.67 L198.18 1009 L199.03 1009.3 L199.86 1009.52 L200.67 1009.6 L201.52 1009.31 L202.35 1008.58 L203.16 1007.62 L204 1006.67 L205.14 1005.36 L206.31 1003.84 L207.49 1002.23 L208.67 1000.67 L209.82 999.1 L210.96 997.5 L212.12 995.98 L213.33 994.67 L214.44 993.69 L215.59 992.81 L216.77 992.02 L218 991.33 L219.26 990.69 L220.57 990.08 L221.93 989.59 L223.33 989.33 L224.98 989.25 L226.73 989.2 L228.45 989.15 L230 989.07 L231.13 988.85 L232.19 988.46 L233.17 987.93 L234 987.33 L234.77 986.49 L235.44 985.37 L236.06 984.06 L236.67 982.67 L237.54 980.37 L238.38 977.69 L239.19 974.83 L240 972 L240.84 969.04 L241.67 966 L242.49 962.96 L243.33 960 L244.15 957.27 L244.98 954.58 L245.81 951.93 L246.67 949.33 L247.48 946.92 L248.3 944.54 L249.14 942.23 L250 940 L250.8 938.08 L251.63 936.22 L252.47 934.41 L253.33 932.67 L254.11 931.13 L254.89 929.67 L255.73 928.2 L256.67 926.67 L258.12 924.59 L259.81 922.41 L261.59 920.2 L263.33 918 L265.05 915.6 L266.79 913.05 L268.47 910.81 L270 909.33 L270.71 908.85 L271.36 908.42 L272 908.12 L272.67 908 L273.49 908.22 L274.34 908.74 L275.19 909.4 L276 910 L276.72 910.58 L277.42 911.24 L278.08 911.78 L278.67 912 L279.22 911.64 L279.71 910.75 L280.18 909.66 L280.67 908.67 L281.16 907.68 L281.65 906.58 L282.14 905.7 L282.67 905.33 L283.14 905.54 L283.64 906.05 L284.15 906.7 L284.67 907.33 L285.31 908.25 L285.98 909.35 L286.65 910.28 L287.33 910.67 L288 910.4 L288.69 909.73 L289.36 908.86 L290 908 L290.71 907 L291.4 905.88 L292.05 904.66 L292.67 903.33 L293.2 902.4 L294.67 906.02 L296.02 908.12 L297.2 908.8 L298.32 906.96 L299.3 902.98 L300.4 899.2 L301.61 896.17 L302.96 893.29 L304.4 892 L305.69 892.72 L307.05 894.33 L308.4 896 L309.76 897.91 L311.1 899.89 L312.4 900.8 L313.74 899.14 L315.03 896.06 L316.4 894.4 L317.45 894.66 L318.56 895.27 L319.6 896 L320.79 897.42 L321.91 899.15 L322.8 900 L323.7 897.72 L324.4 892.77 L325.2 888 L326.09 884 L327.12 880.13 L328.4 878.4 L329.55 878.4 L330.98 878.4 L332.4 878.4 L333.77 878.51 L335.14 878.8 L336.4 879.2 L337.84 880.9 L339.17 883.47 L340.4 884.8 L341.75 882.82 L343 878.7 L344.4 875.2 L345.62 873.68 L346.97 872.39 L348.4 871.2 L350.02 869.84 L351.73 868.57 L353.2 868 L354.38 868.98 L355.39 871.2 L356.4 873.6 L357.72 877.29 L359.03 881.31 L360.4 883.2 L361.4 882.27 L362.44 880.45 L363.6 879.2 L364.92 878.9 L366.38 878.71 L367.6 878.4 L368.79 876.54 L369.76 873.33 L370.8 870.4 L371.79 868.34 L372.85 866.44 L374 865.6 L375.01 866.01 L376.09 866.79 L377.2 867.2 L378.27 867.2 L379.35 867.2 L380.4 867.2 L381.81 865.96 L383.17 863.64 L384.4 862.4 L385.26 862.98 L386.04 864.26 L386.8 865.6 L387.61 867.19 L388.4 868.84 L389.2 869.6 L390.3 868.29 L391.4 865.37 L392.4 862.4 L393.21 859.56 L393.94 856.64 L394.8 854.4 L395.53 853.31 L396.37 852.39 L397.2 852 L398.28 853.02 L399.35 855.28 L400.4 857.6 L401.48 860.17 L402.54 862.8 L403.6 864 L404.65 862.77 L405.71 860.12 L406.8 857.6 L407.8 855.58 L408.84 853.66 L410 852.8 L411.2 853.37 L412.55 854.47 L414 855.2 L415.76 855.42 L417.68 855.56 L419.6 855.68 L421.6 855.82 L423.6 855.95 L425.2 856 L426.41 854.83 L427.38 852.23 L428.4 849.6 L429.63 847.06 L430.93 844.48 L432.4 842.4 L433.88 841.22 L435.55 840.24 L437.2 839.2 L438.84 837.62 L440.45 835.97 L442 835.2 L443.11 835.46 L444.17 836.08 L445.2 836.8 L446.29 837.97 L447.33 839.34 L448.4 840 L449.68 839 L450.98 836.94 L452.4 835.2 L453.91 834.34 L455.56 833.64 L457.2 832.8 L459.03 831.14 L460.85 829.2 L462.8 828 L464.83 827.69 L467 827.5 L469.2 827.2 L471.86 825.95 L474.56 823.98 L477.2 822.4 L479.35 821.72 L481.47 821.19 L483.6 820.48 L486.26 818.7 L488.95 816.31 L491.6 814.4 L493.74 813.45 L495.87 812.67 L498 812 L500.17 811.46 L502.36 810.98 L504.4 810.4 L506.1 809.41 L507.69 808.24 L509.2 807.68 L510.65 808.26 L512.02 809.63 L513.2 811.2 L514.4 813.45 L515.44 816.22 L516.4 819.2 L517.58 823.14 L518.69 827.45 L519.6 832 L520.45 837.53 L521.16 843.4 L521.68 849.6 L521.6 841 L522 852.99 L522.55 860.19 L523.2 862.6 L523.91 859.83 L524.76 853.68 L525.6 847.4 L526.37 841.27 L527.11 835 L528 829.8 L528.68 826.97 L529.47 824.47 L530.4 823.4 L531.4 823.92 L532.57 825.15 L533.6 826.6 L534.78 829.27 L535.8 832.69 L536.8 836.2 L537.9 839.79 L538.98 843.48 L540 847.4 L541.15 853.69 L542.24 860.32 L543.2 863.4 L544.06 859.81 L544.83 851.96 L545.6 844.2 L546.32 836.97 L547.05 829.83 L548 826.6 L548.76 827.12 L549.69 828.35 L550.4 829.8 L551.07 832.77 L551.57 836.67 L552 841 L552.63 848.18 L553.18 856.42 L553.6 865 L553.9 877.4 L554.14 890.27 L554.4 896.2 L554.73 890.56 L555.11 878.35 L555.52 866.6 L555.86 858.35 L556.24 850.43 L556.8 844.2 L557.39 841.78 L558.25 839.75 L559.2 837.8 L560.22 835.48 L561.36 833.22 L562.4 832.2 L563.3 833.22 L564.14 835.48 L564.8 837.8 L565.29 840.36 L565.69 842.99 L566.08 844.2 L566.62 841.88 L567.15 836.72 L567.68 831.4 L568.28 826.04 L568.89 820.48 L569.6 815.4 L570.28 811.31 L571.07 807.49 L572 805.8 L572.76 806.39 L573.62 807.68 L574.4 809 L574.95 810.29 L575.45 811.6 L576 812.2 L576.72 811.54 L577.54 810.18 L578.4 809 L579.2 808.29 L580.05 807.67 L580.8 807.4 L581.7 808.85 L582.5 811.55 L583.2 813 L584.02 810.23 L584.73 804.43 L585.6 799.4 L586.51 796.93 L587.58 794.74 L588.48 793.8 L589.21 795.44 L589.82 799.04 L590.4 802.6 L590.95 805.29 L591.47 807.95 L592 810.6 L592.56 813.86 L593.12 817.12 L593.6 818.6 L594.06 816.26 L594.46 811.07 L594.88 805.8 L595.35 800.74 L595.85 795.59 L596.48 791.4 L597.03 789.26 L597.71 787.4 L598.4 786.6 L598.9 787.43 L599.41 788.97 L600 789.8 L600.76 789.39 L601.64 788.61 L602.4 788.2 L603.32 789.76 L604.08 793.1 L604.8 796.2 L605.34 798.24 L605.85 800.15 L606.4 801 L607.22 799.34 L608.1 796.26 L608.8 794.6 L609.45 797.3 L609.95 803.2 L610.4 809 L610.76 814.27 L611.09 819.46 L611.52 821.8 L612.11 819.73 L612.88 815.87 L613.6 813.8 L614.44 818.57 L615.21 827.43 L616 832.2 L616.78 828.26 L617.59 820.94 L618.4 817 L618.94 818.15 L619.48 820.72 L620 823.4 L620.57 826.87 L621.11 830.52 L621.6 832.2 L622.15 829.19 L622.64 822.81 L623.2 817 L623.67 814.09 L624.18 811.45 L624.8 809 L625.52 806.63 L626.37 804.39 L627.2 803.4 L628.03 804.7 L628.83 807.61 L629.6 810.6 L630.41 814.11 L631.19 817.73 L632 819.4 L632.82 817.53 L633.66 814.07 L634.4 812.2 L635.24 816.35 L635.97 824.05 L636.8 828.2 L637.51 826.13 L638.3 822.27 L639.2 820.2 L639.93 821.03 L640.75 822.57 L641.6 823.4 L642.69 822.61 L643.82 820.75 L644.8 818.6 L645.96 814.34 L646.94 809.05 L648 804.2 L649.05 800.45 L650.17 796.95 L651.2 795.4 L652.06 796.99 L652.84 800.53 L653.6 804.2 L654.41 808.66 L655.18 813.27 L656 815.4 L656.76 813.88 L657.57 810.59 L658.4 807.4 L659.16 805.11 L659.94 802.9 L660.8 801 L661.58 799.6 L662.42 798.35 L663.2 797.8 L664.04 798.94 L664.81 801.5 L665.6 804.2 L666.67 807.96 L667.77 811.95 L668.8 813.8 L669.58 811.9 L670.3 808.22 L671.2 805.8 L671.97 805.4 L672.88 805.11 L673.6 805 L674.55 808.32 L675.25 814.48 L676 817.8 L676.76 816.11 L677.56 812.47 L678.4 809 L679.17 806.31 L679.99 803.75 L680.8 802.6 L681.62 803.72 L682.44 806.26 L683.2 809 L684.05 813.31 L684.82 818 L685.6 820.2 L686.39 817.89 L687.18 813.1 L688 809 L688.5 807.23 L689.02 805.67 L689.6 805 L690.39 805.65 L691.27 807.18 L692 809 L692.94 813.27 L693.71 818.91 L694.4 825 L695.27 835.52 L696.06 846.88 L696.8 852.2 L697.33 848.89 L697.84 841.67 L698.4 834.6 L699.01 828.32 L699.7 822.17 L700.48 819.4 L701.3 821.68 L702.23 826.62 L703.2 831.4 L704.13 835.39 L705.1 839.26 L705.92 841 L706.66 837.87 L707.29 831.19 L708 825 L708.83 820.91 L709.76 817.09 L710.4 815.4 L710.71 818.72 L710.92 824.88 L711.2 828.2 L711.79 824.17 L712.61 815.87 L713.6 809 L714.33 806.49 L715.2 804.32 L716 803.4 L716.87 806.1 L717.65 811.1 L718.4 813.8 L719.2 810.96 L719.96 804.93 L720.8 799.4 L721.53 796.28 L722.33 793.42 L723.2 791.4 L723.76 790.66 L724.35 790.05 L724.8 789.8 L725.46 792.64 L725.91 799.03 L726.4 805.8 L727.08 815.49 L727.81 825.8 L728.8 830.6 L729.52 829.95 L730.43 828.41 L731.2 826.6 L732.12 822.41 L732.88 817.06 L733.6 812.2 L734.18 808.78 L734.73 805.6 L735.2 804.2 L735.79 808.65 L736.27 818.42 L736.8 828.2 L737.46 837.98 L738.18 847.76 L738.88 852.2 L739.45 849 L740 841.88 L740.48 834.6 L740.86 826.26 L741.19 817.72 L741.6 813.8 L742.06 816.7 L742.63 822.1 L743.2 825 L744 817.95 L744.8 804.85 L745.6 797.8 L746.13 800.7 L746.66 806.1 L747.2 809 L747.85 805.06 L748.5 797.74 L749.12 793.8 L749.82 800.02 L750.49 811.58 L751.2 817.8 L751.67 815.1 L752.17 810.1 L752.8 807.4 L753.44 807.91 L754.26 809.49 L755.2 812.2" fill="none" stroke="#00f" stroke-width="4.86" stroke-linejoin="round" stroke-linecap="butt" />
<path d="M115.33 1041.33 L116.36 1039.4 L117.36 1037.42 L118.36 1035.4 L119.33 1033.33 L120.33 1030.88 L121.28 1028.25 L122.26 1025.82 L123.33 1024 L124.11 1023.08 L124.95 1022.22 L125.82 1021.58 L126.67 1021.33 L127.54 1021.58 L128.44 1022.22 L129.29 1023.08 L130 1024 L130.8 1025.56 L131.49 1027.58 L132.1 1029.81 L132.67 1032 L133.21 1034.28 L133.71 1036.64 L134.18 1039.01 L134.67 1041.33 L135.16 1043.93 L135.66 1046.77 L136.17 1049.06 L136.67 1050 L137.17 1049.07 L137.68 1046.81 L138.18 1043.97 L138.67 1041.33 L139.16 1038.7 L139.62 1035.93 L140.11 1033.2 L140.67 1030.67 L141.22 1028.61 L141.84 1026.58 L142.54 1024.77 L143.33 1023.33 L144.03 1022.42 L144.84 1021.56 L145.73 1020.92 L146.67 1020.67 L147.75 1020.67 L148.95 1020.67 L150.17 1020.67 L151.33 1020.67 L152.37 1020.46 L153.38 1020 L154.36 1019.54 L155.33 1019.33 L156.19 1019.33 L157.05 1019.33 L157.88 1019.33 L158.67 1019.33 L159.57 1019.67 L160.44 1020.51 L161.26 1021.6 L162 1022.67 L162.71 1023.89 L163.34 1025.29 L163.97 1026.71 L164.67 1028 L165.45 1029.25 L166.31 1030.55 L167.19 1031.58 L168 1032 L168.7 1031.6 L169.37 1030.59 L170.02 1029.29 L170.67 1028 L171.5 1026.21 L172.3 1024.14 L173.12 1022 L174 1020 L174.9 1018.23 L175.86 1016.48 L176.88 1014.83 L178 1013.33 L179.19 1011.91 L180.51 1010.49 L181.91 1009.33 L183.33 1008.67 L184.63 1008.4 L185.99 1008.19 L187.36 1008.05 L188.67 1008 L189.89 1008.19 L191.09 1008.67 L192.25 1009.32 L193.33 1010 L194.38 1010.88 L195.36 1011.99 L196.32 1013.1 L197.33 1014 L198.32 1014.67 L199.36 1015.32 L200.38 1015.81 L201.33 1016 L202.22 1015.67 L203.06 1014.84 L203.86 1013.75 L204.67 1012.67 L205.67 1011.21 L206.65 1009.51 L207.64 1007.73 L208.67 1006 L209.77 1004.26 L210.92 1002.5 L212.11 1000.82 L213.33 999.33 L214.44 998.17 L215.58 997.09 L216.76 996.12 L218 995.33 L219.25 994.7 L220.56 994.12 L221.93 993.66 L223.33 993.33 L224.96 993.13 L226.69 992.99 L228.4 992.86 L230 992.67 L231.23 992.43 L232.4 992.12 L233.54 991.75 L234.67 991.33 L235.85 990.81 L237.02 990.17 L238.17 989.45 L239.33 988.67 L240.66 987.63 L241.99 986.42 L243.32 985.17 L244.67 984 L245.97 982.94 L247.27 981.91 L248.6 980.92 L250 980 L251.58 979.09 L253.26 978.24 L254.96 977.43 L256.67 976.67 L258.33 975.97 L260 975.33 L261.67 974.69 L263.33 974 L265.01 973.23 L266.68 972.41 L268.35 971.55 L270 970.67 L271.68 969.71 L273.34 968.71 L275 967.68 L276.67 966.67 L278.33 965.65 L279.99 964.63 L281.66 963.62 L283.33 962.67 L284.99 961.8 L286.66 960.97 L288.33 960.15 L290 959.33 L291.67 958.5 L293.33 957.67 L295 956.83 L296.67 956 L298.33 955.17 L300 954.33 L301.67 953.5 L303.33 952.67 L310 947.4 L400 900.5 L500 848.4 L616 788 L619.2 784.68 L620.26 787.74 L621.32 790.04 L622.4 791.4 L622.98 791.79 L623.56 792.08 L624 792.2 L624.64 790.17 L625.1 785.84 L625.6 781.8 L626.05 779.31 L626.54 777 L627.2 775.4 L628.07 774.79 L629.25 774.34 L630.4 773.8 L631.5 772.81 L632.56 771.62 L633.6 770.6 L634.5 769.9 L635.39 769.27 L636 769 L636.71 771.85 L637.17 778.25 L637.6 785 L638.14 792.92 L638.64 801.4 L639.2 809 L639.7 814.5 L640.25 819.57 L640.8 821.8 L641.35 819.57 L641.9 814.5 L642.4 809 L642.96 801.4 L643.46 792.92 L644 785 L644.45 778.83 L644.94 773.01 L645.6 769 L646.08 767.88 L646.69 766.98 L647.2 766.6 L647.8 769.3 L648.28 774.3 L648.8 777 L649.32 775.86 L649.88 773.3 L650.4 770.6 L650.93 767.38 L651.43 763.93 L652 761 L652.52 759.25 L653.1 757.68 L653.6 757 L654.22 759.04 L654.75 763.74 L655.2 769 L655.79 780.29 L656.29 793.22 L656.8 799.4 L657.17 795.67 L657.54 788.73 L657.92 785 L658.33 789.15 L658.74 796.85 L659.2 801 L659.68 798.1 L660.2 792.01 L660.8 786.6 L661.32 783.81 L661.9 781.3 L662.4 780.2 L662.98 784.76 L663.47 793.24 L664 797.8 L664.51 794.9 L665.06 789.5 L665.6 786.6 L666.15 789.92 L666.69 796.08 L667.2 799.4 L667.7 795.55 L668.17 787.79 L668.8 781.8 L669.26 780.59 L669.85 779.64 L670.4 778.6 L670.98 776.73 L671.52 774.73 L672 773.8 L672.59 775.81 L673.11 780.31 L673.6 785 L674.15 791.01 L674.68 797.3 L675.2 800.2 L675.73 797.32 L676.25 791.06 L676.8 785 L677.24 780.21 L677.71 775.58 L678.4 773 L679.07 772.6 L680 772.31 L680.8 772.2 L681.69 773.77 L682.41 776.94 L683.2 779.4 L683.7 780.08 L684.24 780.63 L684.8 781" fill="none" stroke="#f00" stroke-width="4.86" stroke-linejoin="round" stroke-linecap="butt" />
<path d="M635.29 780.07 L697.84 780.07" fill="none" stroke="#f00" stroke-width="2.08" stroke-linejoin="round" stroke-linecap="butt" stroke-dasharray="7.7 3.3" />
<path d="M598.33 808.52 L754.7 808.52" fill="none" stroke="#00f" stroke-width="2.08" stroke-linejoin="round" stroke-linecap="butt" stroke-dasharray="7.7 3.3" />
</g>
<g fill="#f00"><text x="509.3" y="790.2" font-family='"Liberation Sans", sans-serif' font-size="44.72">~</text><text transform="translate(532.72 785.3) scale(1 1.06)" font-family='"Liberation Sans", sans-serif' font-size="38.89">0.23</text></g>
<g fill="#00f"><text x="596" y="877.9" font-family='"Liberation Sans", sans-serif' font-size="44.72">~</text><text transform="translate(619.42 873) scale(1 1.06)" font-family='"Liberation Sans", sans-serif' font-size="38.89">0.06</text></g>
<g fill="#000"><text x="149.8" y="808.4" font-family='"Liberation Sans", sans-serif' font-size="52.78">(c)</text></g>
<rect x="115" y="749" width="639.7" height="307" fill="none" stroke="#000" stroke-width="2.92"/>
<rect x="401.1" y="970.2" width="341.6" height="74" rx="4.5" ry="4.5" fill="#fff" fill-opacity="0.8" stroke="#ccc" stroke-opacity="0.8" stroke-width="1.6"/>
<path d="M407.8 988 L460.3 988" fill="none" stroke="#00f" stroke-width="4.86" stroke-linejoin="round" stroke-linecap="butt" />
<g fill="#000"><text transform="translate(476 996.4) scale(1 1.06)" font-family='"Liberation Sans", sans-serif' font-size="23.96">PBM+EDW initial</text></g>
<path d="M407.8 1021.8 L460.3 1021.8" fill="none" stroke="#f00" stroke-width="4.86" stroke-linejoin="round" stroke-linecap="butt" />
<g fill="#000"><text transform="translate(476 1030.2) scale(1 1.06)" font-family='"Liberation Sans", sans-serif' font-size="23.96">PBM only (EDW filtered)</text></g>
<g transform="translate(36.5 976) rotate(-90)" fill="#000"><text x="0" y="0" font-family='"DejaVu Sans", "Liberation Sans", sans-serif' font-size="29.17" font-style="italic">δp</text><text x="36.36" y="5.2" font-family='"DejaVu Sans", "Liberation Sans", sans-serif' font-size="20.42" font-style="italic">n</text><text x="49.3" y="5.2" font-family='"DejaVu Sans", "Liberation Sans", sans-serif' font-size="20.42"> = 10</text><text x="104.76" y="1" font-family='"DejaVu Sans", "Liberation Sans", sans-serif' font-size="32.67">/</text><text x="116.07" y="0" font-family='"DejaVu Sans", "Liberation Sans", sans-serif' font-size="29.17" font-style="italic">p</text><text x="135.19" y="5.2" font-family='"DejaVu Sans", "Liberation Sans", sans-serif' font-size="20.42">0</text></g>
</g>
<g id="panel-d">
<clipPath id="clipd"><rect x="115" y="1081.8" width="639.7" height="306.2"/></clipPath>
<rect x="328.23" y="1081.8" width="142.16" height="306.2" fill="#808080" fill-opacity="0.3" stroke="#808080" stroke-opacity="0.3" stroke-width="1.39"/>
<line x1="115" y1="1388" x2="115" y2="1372.8" stroke="#000" stroke-width="3"/>
<g fill="#000"><text transform="translate(106.89 1414.8) scale(1 1.06)" font-family='"Liberation Sans", sans-serif' font-size="29.17">0</text></g>
<line x1="257.16" y1="1388" x2="257.16" y2="1372.8" stroke="#000" stroke-width="3"/>
<g fill="#000"><text transform="translate(232.82 1414.8) scale(1 1.06)" font-family='"Liberation Sans", sans-serif' font-size="29.17">100</text></g>
<line x1="399.31" y1="1388" x2="399.31" y2="1372.8" stroke="#000" stroke-width="3"/>
<g fill="#000"><text transform="translate(374.98 1414.8) scale(1 1.06)" font-family='"Liberation Sans", sans-serif' font-size="29.17">200</text></g>
<line x1="541.47" y1="1388" x2="541.47" y2="1372.8" stroke="#000" stroke-width="3"/>
<g fill="#000"><text transform="translate(517.14 1414.8) scale(1 1.06)" font-family='"Liberation Sans", sans-serif' font-size="29.17">300</text></g>
<line x1="683.62" y1="1388" x2="683.62" y2="1372.8" stroke="#000" stroke-width="3"/>
<g fill="#000"><text transform="translate(659.29 1414.8) scale(1 1.06)" font-family='"Liberation Sans", sans-serif' font-size="29.17">400</text></g>
<line x1="115" y1="1147.1" x2="130.2" y2="1147.1" stroke="#000" stroke-width="3"/>
<g fill="#000"><text transform="translate(92.58 1158) scale(1 1.06)" font-family='"Liberation Sans", sans-serif' font-size="29.17">2</text></g>
<line x1="115" y1="1234.6" x2="130.2" y2="1234.6" stroke="#000" stroke-width="3"/>
<g fill="#000"><text transform="translate(92.58 1245.5) scale(1 1.06)" font-family='"Liberation Sans", sans-serif' font-size="29.17">0</text></g>
<line x1="115" y1="1322.1" x2="130.2" y2="1322.1" stroke="#000" stroke-width="3"/>
<g fill="#000"><text transform="translate(75.55 1333) scale(1 1.06)" font-family='"Liberation Sans", sans-serif' font-size="29.17">−2</text></g>
<g fill="#000"><text x="149.8" y="1134.1" font-family='"Liberation Sans", sans-serif' font-size="52.78">(d)</text></g>
<g clip-path="url(#clipd)">
<path d="M115.33 1164.33 L118.11 1185.67 L119.6 1199.53 L121.73 1198.47 L123.87 1187.8 L126 1172.87 L128.13 1155.8 L130.27 1138.73 L131.97 1117.4 L133.47 1100.33 L132.87 1101.33 L134.79 1361.6 L135.39 1361.6 L136.67 1336 L137.73 1293.33 L139.87 1250.67 L142 1208 L144.13 1180.27 L146.27 1167.47 L148.83 1164.27 L151.6 1168.53 L154.8 1171.73 L157.36 1167.47 L159.49 1158.93 L161.2 1144 L162.69 1122.67 L163.76 1108.8 L163.76 1108.8 L165.04 1363.73 L165.04 1363.73 L165.89 1336 L167.17 1293.33 L168.67 1261.33 L170.8 1229.33 L174 1200.53 L177.2 1183.89 L181.47 1175.36 L185.73 1168.96 L190 1163.63 L194.27 1153.6 L196.4 1144 L197.89 1133.33 L199.6 1139.73 L200.67 1165.33 L201.73 1197.33 L202.8 1227.2 L204.93 1208 L208.13 1195.2 L214.53 1180.27 L220.93 1171.73 L226.27 1165.33 L227.76 1154.67 L228.83 1147.2 L229.47 1165.33 L230.11 1208 L230.75 1272 L231.17 1301.87 L232.67 1282.67 L235.87 1261.33 L240.13 1244.27 L245.47 1236.8 L251.87 1234.67 L256.13 1238.93 L259.33 1250.67 L262.53 1260.27 L265.73 1261.33 L268.93 1250.67 L270.53 1237.87 L272.67 1224 L273.31 1250.67 L274.16 1293.33 L274.8 1336 L276.51 1314.67 L278.64 1293.33 L280.77 1274.13 L282.27 1293.33 L283.76 1329.6 L285.89 1304 L288.03 1282.67 L289.73 1250.67 L291.23 1186.67 L292.51 1126.93 L293.57 1186.67 L294.64 1272 L295.71 1357.33 L296.56 1363.73 L298.27 1314.67 L300.4 1250.67 L302.53 1186.67 L304.67 1133.33 L306.8 1105.6 L308.93 1122.67 L312.13 1165.33 L315.33 1229.33 L317.47 1293.33 L319.17 1336 L320.24 1272 L320.88 1186.67 L321.31 1120.53 L322.16 1165.33 L323.87 1199.47 L326 1208 L327.28 1186.67 L328.56 1165.33 L329.63 1157.87 L330.27 1208 L330.91 1272 L331.76 1346.67 L332.83 1272 L334.53 1171.73 L336.67 1144 L338.37 1112 L339.23 1186.67 L339.87 1293.33 L340.29 1368 L341.36 1293.33 L343.07 1229.33 L346.27 1199.47 L348.4 1190.93 L349.89 1203.73 L351.17 1215.47 L352.67 1186.67 L354.16 1144 L355.87 1122.67 L357.36 1119.47 L359.07 1129.07 L360.56 1165.33 L362.27 1199.47 L363.97 1218.67 L364.83 1293.33 L365.47 1368 L366.53 1293.33 L368.67 1240 L370.8 1208 L373.36 1165.33 L375.07 1144 L376.77 1139.73 L378.27 1154.67 L380 1182.4 L381.71 1197.33 L383.2 1195.2 L384.27 1165.33 L385.33 1122.67 L386.83 1107.73 L388.53 1122.67 L389.6 1186.67 L390.67 1225.07 L392.37 1232.53 L393.87 1227.2 L395.36 1208 L397.07 1165.33 L398.56 1126.93 L399.63 1121.6 L400.05 1186.67 L400.48 1293.33 L400.91 1370.13 L402.4 1293.33 L403.89 1250.67 L405.6 1218.67 L407.73 1199.47 L409.87 1176 L412 1144 L413.49 1126.93 L414.56 1150.4 L415.84 1169.6 L417.33 1171.73 L418.83 1164.27 L421.6 1164.27 L423.73 1167.47 L424.37 1197.33 L425.23 1225.07 L426.51 1235.73 L428.64 1225.07 L431.2 1212.27 L434.4 1195.2 L437.17 1186.67 L439.31 1193.07 L440.8 1186.67 L442.93 1165.33 L445.07 1137.6 L446.56 1120.53 L447.84 1118.4 L448.69 1144 L449.33 1197.33 L449.76 1216.53 L451.47 1208 L453.6 1190.93 L455.73 1199.47 L457.87 1204.8 L460 1197.33 L462.13 1180.27 L464.27 1167.47 L466.4 1164.27 L468.53 1169.6 L470.67 1180.27 L473.87 1187.73 L476.43 1188.8 L478.56 1180.27 L481.33 1173.87 L483.47 1177.07 L485.6 1188.8 L488.37 1194.13 L490.93 1188.8 L494.13 1181.33 L497.33 1178.13 L500.53 1176 L502.67 1180.27 L504.8 1208 L506.29 1237.87 L507.57 1246.4 L508.64 1208 L509.71 1144 L510.56 1112 L511.63 1103.47 L511.73 1104.53 L512.37 1165.33 L512.8 1250.67 L513.23 1355.2 L514.93 1336 L516.64 1361.6 L519.2 1361.6 L521.33 1342.4 L523.04 1336 L524.11 1272 L525.17 1220.8 L527.31 1238.93 L528.37 1208 L529.44 1167.47 L530.93 1171.73 L532.43 1144 L534.13 1122.67 L535.2 1208 L536.27 1355.2 L537.97 1357.33 L538.4 1250.67 L538.83 1103.47 L539.47 1144 L540.53 1208 L541.6 1115.2 L542.67 1208 L543.31 1329.6 L544.8 1272 L546.51 1186.67 L548 1272 L549.49 1336 L551.2 1353.07 L553.33 1336 L555.04 1272 L556.53 1208 L558.03 1165.33 L559.73 1167.47 L561.44 1195.2 L562.93 1176 L564 1157.87 L564.64 1229.33 L565.28 1350.93 L566.56 1272 L567.84 1212.27 L569.33 1240 L571.47 1220.8 L572.96 1218.67 L574.03 1333.87 L575.73 1282.67 L577.87 1265.6 L579.36 1293.33 L581.07 1321.07 L583.2 1293.33 L585.33 1208 L586.4 1365.87 L587.04 1250.67 L587.89 1114.13 L589.6 1114.13 L591.31 1113.07 L592.16 1165.33 L593.44 1216.53 L594.93 1150.4 L596.43 1267.73 L598.13 1208 L599.2 1139.73 L600 1135.47 L602.56 1136.53 L603.84 1250.67 L605.33 1325.33 L607.47 1173.87 L609.6 1353.07 L611.09 1118.4 L613.23 1229.33 L615.36 1123.73 L616.64 1342.4 L618.77 1250.67 L620.69 1169.6 L622.4 1229.33 L623.89 1141.87 L625.6 1250.67 L627.31 1340.27 L629.87 1250.67 L633.07 1165.33 L636.27 1103.47 L638.4 1186.67 L641.6 1250.67 L644.16 1295.47 L646.93 1208 L649.49 1132.27 L651.2 1250.67 L652.27 1365.87 L654.4 1366.93 L656.53 1293.33 L659.73 1186.67 L663.36 1106.67 L665.07 1208 L667.2 1293.33 L670.4 1357.33 L673.6 1357.33 L675.73 1272 L678.93 1186.67 L682.13 1126.93 L683.2 1250.67 L683.84 1355.2 L685.33 1353.07 L687.47 1233.6 L689.6 1231.47 L690.03 1114.13 L691.73 1169.6 L693.23 1112 L694.93 1099.2 L696 1165.33 L698.77 1286.93 L700.27 1186.67 L701.97 1097.07 L704.11 1227.2 L705.6 1186.67 L707.73 1218.67 L709.23 1097.07 L710.93 1208 L713.49 1118.4 L715.2 1250.67 L717.33 1346.67 L720.53 1219.73 L722.67 1293.33 L724.8 1355.2 L726.29 1114.13 L729.07 1345.6 L731.84 1133.33 L733.97 1250.67 L735.47 1190.93 L737.6 1355.2 L739.73 1173.87 L741.87 1366.93 L743.36 1161.07 L746.13 1293.33 L748.91 1160 L750.4 1330.67 L752.53 1212.27 L754.67 1250.67" fill="none" stroke="#00f" stroke-width="4.86" stroke-linejoin="round" stroke-linecap="butt" />
<path d="M115.33 1165.33 L116.12 1171.1 L116.85 1176.58 L117.52 1181.77 L118.11 1186.67 L118.47 1190.98 L118.76 1195.51 L119.1 1199.08 L119.6 1200.53 L120.01 1200.44 L120.62 1200.2 L121.25 1199.86 L121.73 1199.47 L122.4 1197.85 L122.93 1195.14 L123.4 1191.93 L123.87 1188.8 L124.43 1185.28 L124.96 1181.56 L125.48 1177.73 L126 1173.87 L126.54 1169.68 L127.08 1165.41 L127.6 1161.09 L128.13 1156.8 L128.68 1152.58 L129.24 1148.39 L129.78 1144.13 L130.27 1139.73 L130.73 1134.52 L131.16 1129.07 L131.56 1123.62 L131.97 1118.4 L132.35 1113.96 L132.72 1109.63 L133.1 1105.42 L133.47 1101.33 L133.47 1101.33 L135.39 1361.6 L135.39 1361.6 L135.75 1355.8 L136.08 1349.6 L136.39 1342.99 L136.67 1336 L136.95 1326.12 L137.19 1315.37 L137.43 1304.26 L137.73 1293.33 L138.17 1282.67 L138.71 1272 L139.3 1261.33 L139.87 1250.67 L140.39 1239.78 L140.9 1228.74 L141.43 1218 L142 1208 L142.48 1200.4 L142.99 1193.07 L143.53 1186.27 L144.13 1180.27 L144.57 1176.5 L145.04 1172.93 L145.59 1169.83 L146.27 1167.47 L146.79 1166.37 L147.44 1165.33 L148.15 1164.57 L148.83 1164.27 L149.51 1164.76 L150.18 1165.93 L150.87 1167.34 L151.6 1168.53 L152.38 1169.53 L153.21 1170.58 L154.05 1171.4 L154.8 1171.73 L155.52 1171.3 L156.19 1170.23 L156.82 1168.85 L157.36 1167.47 L157.99 1165.64 L158.55 1163.57 L159.05 1161.32 L159.49 1158.93 L159.99 1155.58 L160.43 1151.91 L160.83 1148.02 L161.2 1144 L161.61 1138.83 L161.99 1133.28 L162.34 1127.76 L162.69 1122.67 L162.97 1118.93 L163.24 1115.37 L163.5 1111.99 L163.76 1108.8 L163.76 1108.8 L165.04 1363.73 L165.04 1363.73 L165.24 1357.35 L165.45 1350.6 L165.67 1343.47 L165.89 1336 L166.19 1325.85 L166.49 1314.86 L166.82 1303.78 L167.17 1293.33 L167.5 1285.02 L167.86 1277.05 L168.25 1269.23 L168.67 1261.33 L169.13 1253.3 L169.63 1245.26 L170.18 1237.25 L170.8 1229.33 L171.48 1221.58 L172.26 1213.78 L173.1 1206.29 L174 1199.47 L174.7 1194.72 L175.43 1190.22 L176.24 1186.07 L177.2 1182.4 L178.09 1180.01 L179.16 1177.84 L180.31 1175.82 L181.47 1173.87 L182.5 1172.17 L183.56 1170.55 L184.64 1168.98 L185.73 1167.47 L186.8 1166.13 L187.91 1164.88 L188.99 1163.58 L190 1162.13 L191.2 1160.01 L192.37 1157.61 L193.43 1155.08 L194.27 1152.53 L194.93 1149.98 L195.49 1147.37 L195.98 1144.68 L196.4 1141.87 L196.84 1138.35 L197.22 1134.63 L197.56 1130.8 L197.89 1126.93 L198.24 1122.78 L198.57 1118.55 L198.88 1114.24 L199.17 1109.87 L199.17 1109.87 L200.67 1345.6 L200.67 1345.6 L200.8 1332.03 L200.95 1318.8 L201.12 1305.9 L201.31 1293.33 L201.48 1282.22 L201.67 1271.34 L201.89 1260.79 L202.16 1250.67 L202.46 1242.15 L202.84 1233.85 L203.3 1225.96 L203.87 1218.67 L204.46 1213.47 L205.22 1208.6 L206.12 1203.97 L207.07 1199.47 L207.98 1195.52 L209 1191.68 L210.12 1188 L211.33 1184.53 L212.5 1181.58 L213.79 1178.69 L215.19 1176.06 L216.67 1173.87 L217.9 1172.37 L219.24 1170.95 L220.63 1169.82 L222 1169.17 L223.09 1168.92 L224.21 1168.72 L225.29 1168.58 L226.27 1168.53 L227.16 1168.84 L227.99 1169.62 L228.76 1170.66 L229.47 1171.73 L230.36 1173.46 L231.16 1175.6 L231.92 1177.93 L232.67 1180.27 L233.46 1182.98 L234.21 1185.89 L234.99 1188.65 L235.87 1190.93 L236.57 1192.35 L237.34 1193.73 L238.18 1194.78 L239.07 1195.2 L240.05 1194.89 L241.14 1194.11 L242.25 1193.07 L243.33 1192 L244.67 1190.39 L245.98 1188.42 L247.3 1186.37 L248.67 1184.53 L249.94 1182.96 L251.25 1181.37 L252.59 1180.04 L254 1179.2 L255.29 1178.79 L256.65 1178.45 L258.02 1178.22 L259.33 1178.13 L260.77 1178.6 L262.19 1179.74 L263.52 1181.15 L264.67 1182.4 L265.39 1183.27 L266 1184.16 L266.61 1184.97 L267.33 1185.6 L268.27 1186.12 L269.35 1186.61 L270.49 1186.96 L271.6 1187.09 L272.66 1186.95 L273.72 1186.59 L274.78 1186.1 L275.87 1185.6 L277.17 1184.91 L278.5 1184.05 L279.84 1183.16 L281.2 1182.4 L282.52 1181.71 L283.84 1181.02 L285.18 1180.48 L286.53 1180.27 L287.86 1180.37 L289.2 1180.62 L290.54 1180.97 L291.87 1181.33 L293.2 1181.81 L294.5 1182.41 L295.83 1183.01 L297.2 1183.47 L298.73 1183.84 L300.32 1184.18 L301.95 1184.43 L303.6 1184.53 L305.41 1184.42 L307.27 1184.15 L309.15 1183.8 L311.07 1183.47 L313.16 1183.05 L315.3 1182.56 L317.45 1182.15 L319.6 1181.97 L321.73 1182.09 L323.86 1182.37 L326 1182.72 L328.13 1183.04 L330.24 1183.36 L332.34 1183.71 L334.47 1183.99 L336.67 1184.11 L339.25 1184.03 L341.92 1183.85 L344.64 1183.64 L347.33 1183.47 L350 1183.33 L352.67 1183.19 L355.33 1183.08 L358 1183.04 L360.67 1183.09 L363.33 1183.22 L366 1183.36 L368.67 1183.47 L371.33 1183.54 L374 1183.61 L376.67 1183.66 L379.33 1183.68 L382 1183.68 L384.67 1183.68 L387.33 1183.68 L390 1183.68 L390 1183.7 L593.8 1183.7 L593.17 1183.68 L595.73 1184.96 L600 1182.4 L602.56 1180.27 L604.69 1199.47 L606.4 1218.67 L608.11 1230.4 L609.6 1208 L611.09 1193.07 L612.8 1216.53 L614.29 1240 L616 1197.33 L617.07 1171.73 L619.2 1176 L621.33 1190.93 L622.19 1272 L622.83 1357.33 L624.32 1293.33 L626.03 1203.73 L628.16 1250.67 L629.87 1314.67 L631.15 1373.33 L632.43 1293.33 L634.13 1250.67 L635.84 1186.67 L637.97 1107.73 L639.04 1165.33 L639.89 1272 L640.96 1322.13 L642.03 1129.07 L643.73 1186.67 L645.23 1216.53 L646.93 1272 L648.64 1237.87 L649.49 1357.33 L651.2 1293.33 L653.33 1216.53 L655.04 1293.33 L656.53 1357.33 L658.03 1248.53 L659.73 1293.33 L661.87 1369.07 L663.57 1250.67 L665.07 1129.07 L666.56 1229.33 L667.84 1363.73 L669.33 1272 L670.83 1173.87 L672.53 1357.33 L674.24 1293.33 L675.73 1250.67 L677.44 1261.33 L679.36 1203.73 L681.07 1229.33 L683.2 1237.87 L683.84 1278.4" fill="none" stroke="#f00" stroke-width="4.86" stroke-linejoin="round" stroke-linecap="butt" />
</g>
<rect x="115" y="1081.8" width="639.7" height="306.2" fill="none" stroke="#000" stroke-width="2.92"/>
<rect x="127.1" y="1302.3" width="340.8" height="74.2" rx="4.5" ry="4.5" fill="#fff" fill-opacity="0.8" stroke="#ccc" stroke-opacity="0.8" stroke-width="1.6"/>
<path d="M134.1 1320.4 L186.2 1320.4" fill="none" stroke="#00f" stroke-width="4.86" stroke-linejoin="round" stroke-linecap="butt" />
<g fill="#000"><text transform="translate(203.2 1328.7) scale(1 1.06)" font-family='"Liberation Sans", sans-serif' font-size="23.96">PBM+EDW initial</text></g>
<path d="M134.1 1353.7 L186.2 1353.7" fill="none" stroke="#f00" stroke-width="4.86" stroke-linejoin="round" stroke-linecap="butt" />
<g fill="#000"><text transform="translate(203.2 1362) scale(1 1.06)" font-family='"Liberation Sans", sans-serif' font-size="23.96">PBM only (EDW filtered)</text></g>
<g fill="#000"><text x="407.3" y="1449.6" font-family='"DejaVu Sans", "Liberation Sans", sans-serif' font-size="29.17" font-style="italic">t</text><text x="418.94" y="1450.6" font-family='"DejaVu Sans", "Liberation Sans", sans-serif' font-size="32.08" font-style="italic">/</text><text x="430.05" y="1449.6" font-family='"DejaVu Sans", "Liberation Sans", sans-serif' font-size="29.17" font-style="italic">τ</text><text x="448.21" y="1454.6" font-family='"DejaVu Sans", "Liberation Sans", sans-serif' font-size="20.42" font-style="italic">A</text></g>
<g transform="translate(63.6 1334.6) rotate(-90)" fill="#000"><text transform="translate(0 0) scale(1 1.06)" font-family='"Liberation Sans", sans-serif' font-size="29.79">Cross Phase </text><text x="178.82" y="0" font-family='"DejaVu Sans", "Liberation Sans", sans-serif' font-size="29.79">Θ</text></g>
</g>
<g id="panel-e">
<clipPath id="clipe"><rect x="858.3" y="751.8" width="639.3" height="639.5"/></clipPath>
<g fill="#000"><text transform="translate(855.77 1417.9) scale(1 1.06)" font-family='"Liberation Sans", sans-serif' font-size="29.17">−3</text></g>
<g fill="#000"><text transform="translate(957.57 1417.9) scale(1 1.06)" font-family='"Liberation Sans", sans-serif' font-size="29.17">−2</text></g>
<g fill="#000"><text transform="translate(1059.37 1417.9) scale(1 1.06)" font-family='"Liberation Sans", sans-serif' font-size="29.17">−1</text></g>
<g fill="#000"><text transform="translate(1169.69 1417.9) scale(1 1.06)" font-family='"Liberation Sans", sans-serif' font-size="29.17">0</text></g>
<g fill="#000"><text transform="translate(1271.49 1417.9) scale(1 1.06)" font-family='"Liberation Sans", sans-serif' font-size="29.17">1</text></g>
<g fill="#000"><text transform="translate(1373.29 1417.9) scale(1 1.06)" font-family='"Liberation Sans", sans-serif' font-size="29.17">2</text></g>
<g fill="#000"><text transform="translate(1475.09 1417.9) scale(1 1.06)" font-family='"Liberation Sans", sans-serif' font-size="29.17">3</text></g>
<line x1="858.3" y1="1391.3" x2="873.5" y2="1391.3" stroke="#000" stroke-width="3"/>
<g fill="#000"><text transform="translate(794.83 1402.2) scale(1 1.06)" font-family='"Liberation Sans", sans-serif' font-size="29.17">0.00</text></g>
<line x1="858.3" y1="1319.4" x2="873.5" y2="1319.4" stroke="#000" stroke-width="3"/>
<g fill="#000"><text transform="translate(794.83 1330.3) scale(1 1.06)" font-family='"Liberation Sans", sans-serif' font-size="29.17">0.25</text></g>
<line x1="858.3" y1="1247.5" x2="873.5" y2="1247.5" stroke="#000" stroke-width="3"/>
<g fill="#000"><text transform="translate(794.83 1258.4) scale(1 1.06)" font-family='"Liberation Sans", sans-serif' font-size="29.17">0.50</text></g>
<line x1="858.3" y1="1175.6" x2="873.5" y2="1175.6" stroke="#000" stroke-width="3"/>
<g fill="#000"><text transform="translate(794.83 1186.5) scale(1 1.06)" font-family='"Liberation Sans", sans-serif' font-size="29.17">0.75</text></g>
<line x1="858.3" y1="1103.7" x2="873.5" y2="1103.7" stroke="#000" stroke-width="3"/>
<g fill="#000"><text transform="translate(794.83 1114.6) scale(1 1.06)" font-family='"Liberation Sans", sans-serif' font-size="29.17">1.00</text></g>
<line x1="858.3" y1="1031.8" x2="873.5" y2="1031.8" stroke="#000" stroke-width="3"/>
<g fill="#000"><text transform="translate(794.83 1042.7) scale(1 1.06)" font-family='"Liberation Sans", sans-serif' font-size="29.17">1.25</text></g>
<line x1="858.3" y1="959.9" x2="873.5" y2="959.9" stroke="#000" stroke-width="3"/>
<g fill="#000"><text transform="translate(794.83 970.8) scale(1 1.06)" font-family='"Liberation Sans", sans-serif' font-size="29.17">1.50</text></g>
<line x1="858.3" y1="888" x2="873.5" y2="888" stroke="#000" stroke-width="3"/>
<g fill="#000"><text transform="translate(794.83 898.9) scale(1 1.06)" font-family='"Liberation Sans", sans-serif' font-size="29.17">1.75</text></g>
<line x1="858.3" y1="816.1" x2="873.5" y2="816.1" stroke="#000" stroke-width="3"/>
<g fill="#000"><text transform="translate(794.83 827) scale(1 1.06)" font-family='"Liberation Sans", sans-serif' font-size="29.17">2.00</text></g>
<g clip-path="url(#clipe)">
<rect x="858.5" y="1379.1" width="31.09" height="12.2" fill="#f00" fill-opacity="0.8"/>
<rect x="889.59" y="1372.2" width="31.09" height="19.1" fill="#f00" fill-opacity="0.8"/>
<rect x="920.68" y="1383.9" width="31.09" height="7.4" fill="#f00" fill-opacity="0.8"/>
<rect x="951.77" y="1386.1" width="31.09" height="5.2" fill="#f00" fill-opacity="0.8"/>
<rect x="982.86" y="1389.7" width="31.09" height="1.6" fill="#f00" fill-opacity="0.8"/>
<rect x="1013.95" y="1386.1" width="31.09" height="5.2" fill="#f00" fill-opacity="0.8"/>
<rect x="1045.04" y="1379.3" width="31.09" height="12" fill="#f00" fill-opacity="0.8"/>
<rect x="1076.13" y="1379.3" width="31.09" height="12" fill="#f00" fill-opacity="0.8"/>
<rect x="1107.22" y="1381.7" width="31.09" height="9.6" fill="#f00" fill-opacity="0.8"/>
<rect x="1138.31" y="1367.4" width="31.09" height="23.9" fill="#f00" fill-opacity="0.8"/>
<rect x="1169.4" y="1374.7" width="31.09" height="16.6" fill="#f00" fill-opacity="0.8"/>
<rect x="1200.49" y="1376.6" width="31.09" height="14.7" fill="#f00" fill-opacity="0.8"/>
<rect x="1231.58" y="1362.6" width="31.09" height="28.7" fill="#f00" fill-opacity="0.8"/>
<rect x="1262.67" y="1313.3" width="31.09" height="78" fill="#f00" fill-opacity="0.8"/>
<rect x="1293.76" y="781.2" width="31.09" height="610.1" fill="#f00" fill-opacity="0.8"/>
<rect x="1324.85" y="1343.9" width="31.09" height="47.4" fill="#f00" fill-opacity="0.8"/>
<rect x="1355.94" y="1374.7" width="31.09" height="16.6" fill="#f00" fill-opacity="0.8"/>
<rect x="1387.03" y="1386.5" width="31.09" height="4.8" fill="#f00" fill-opacity="0.8"/>
<rect x="1418.12" y="1379.3" width="31.09" height="12" fill="#f00" fill-opacity="0.8"/>
<rect x="1449.21" y="1381.7" width="31.09" height="9.6" fill="#f00" fill-opacity="0.8"/>
</g>
<line x1="872.4" y1="1391.3" x2="872.4" y2="1376.1" stroke="#000" stroke-width="3"/>
<line x1="974.2" y1="1391.3" x2="974.2" y2="1376.1" stroke="#000" stroke-width="3"/>
<line x1="1076" y1="1391.3" x2="1076" y2="1376.1" stroke="#000" stroke-width="3"/>
<line x1="1177.8" y1="1391.3" x2="1177.8" y2="1376.1" stroke="#000" stroke-width="3"/>
<line x1="1279.6" y1="1391.3" x2="1279.6" y2="1376.1" stroke="#000" stroke-width="3"/>
<line x1="1381.4" y1="1391.3" x2="1381.4" y2="1376.1" stroke="#000" stroke-width="3"/>
<line x1="1483.2" y1="1391.3" x2="1483.2" y2="1376.1" stroke="#000" stroke-width="3"/>
<line x1="858.3" y1="1391.3" x2="1497.6" y2="1391.3" stroke="#000" stroke-width="2.92"/>
<g clip-path="url(#clipe)">
<rect x="865" y="1360.4" width="31.09" height="30.9" fill="#00f" fill-opacity="0.8"/>
<rect x="896.09" y="1367.4" width="31.09" height="23.9" fill="#00f" fill-opacity="0.8"/>
<rect x="927.18" y="1353.3" width="31.09" height="38" fill="#00f" fill-opacity="0.8"/>
<rect x="958.27" y="1360.4" width="31.09" height="30.9" fill="#00f" fill-opacity="0.8"/>
<rect x="989.36" y="1374.7" width="31.09" height="16.6" fill="#00f" fill-opacity="0.8"/>
<rect x="1020.45" y="1367.4" width="31.09" height="23.9" fill="#00f" fill-opacity="0.8"/>
<rect x="1051.54" y="1367.4" width="31.09" height="23.9" fill="#00f" fill-opacity="0.8"/>
<rect x="1082.63" y="1372.2" width="31.09" height="19.1" fill="#00f" fill-opacity="0.8"/>
<rect x="1113.72" y="1353.3" width="31.09" height="38" fill="#00f" fill-opacity="0.8"/>
<rect x="1144.81" y="1330" width="31.09" height="61.3" fill="#00f" fill-opacity="0.8"/>
<rect x="1175.9" y="1336.6" width="31.09" height="54.7" fill="#00f" fill-opacity="0.8"/>
<rect x="1206.99" y="1332.2" width="31.09" height="59.1" fill="#00f" fill-opacity="0.8"/>
<rect x="1238.08" y="1317.9" width="31.09" height="73.4" fill="#00f" fill-opacity="0.8"/>
<rect x="1269.17" y="1282.9" width="31.09" height="108.4" fill="#00f" fill-opacity="0.8"/>
<rect x="1300.26" y="1271.2" width="31.09" height="120.1" fill="#00f" fill-opacity="0.8"/>
<rect x="1331.35" y="1311.1" width="31.09" height="80.2" fill="#00f" fill-opacity="0.8"/>
<rect x="1362.44" y="1348.5" width="31.09" height="42.8" fill="#00f" fill-opacity="0.8"/>
<rect x="1393.53" y="1360.4" width="31.09" height="30.9" fill="#00f" fill-opacity="0.8"/>
<rect x="1424.62" y="1346.3" width="31.09" height="45" fill="#00f" fill-opacity="0.8"/>
<rect x="1455.71" y="1365.2" width="31.09" height="26.1" fill="#00f" fill-opacity="0.8"/>
</g>
<path d="M858.3 1391.3 L858.3 751.8 L1497.6 751.8 L1497.6 1391.3" fill="none" stroke="#000" stroke-width="2.92" stroke-linecap="square"/>
<rect x="856.84" y="1391.3" width="642.22" height="1.46" fill="#000"/>
<rect x="870" y="763" width="342" height="74.9" rx="4.5" ry="4.5" fill="#fff" fill-opacity="0.8" stroke="#ccc" stroke-opacity="0.8" stroke-width="1.6"/>
<rect x="879.0" y="773.3" width="47.7" height="16.7" fill="#00f" fill-opacity="0.8"/>
<g fill="#000"><text transform="translate(946.2 789.8) scale(1 1.06)" font-family='"Liberation Sans", sans-serif' font-size="23.96">PBM+EDW initial</text></g>
<rect x="879.0" y="807.3" width="47.7" height="16.7" fill="#f00" fill-opacity="0.8"/>
<g fill="#000"><text transform="translate(946.2 823.9) scale(1 1.06)" font-family='"Liberation Sans", sans-serif' font-size="23.96">PBM only (EDW filtered)</text></g>
<g fill="#000"><text x="1410" y="817.7" font-family='"Liberation Sans", sans-serif' font-size="52.78">(e)</text></g>
<g fill="#000"><text transform="translate(1075.86 1450.5) scale(1 1.06)" font-family='"Liberation Sans", sans-serif' font-size="29.79">Cross Phase </text><text x="1254.69" y="1450.5" font-family='"DejaVu Sans", "Liberation Sans", sans-serif' font-size="29.79">Θ</text></g>
</g>
</svg>
</body></html>
